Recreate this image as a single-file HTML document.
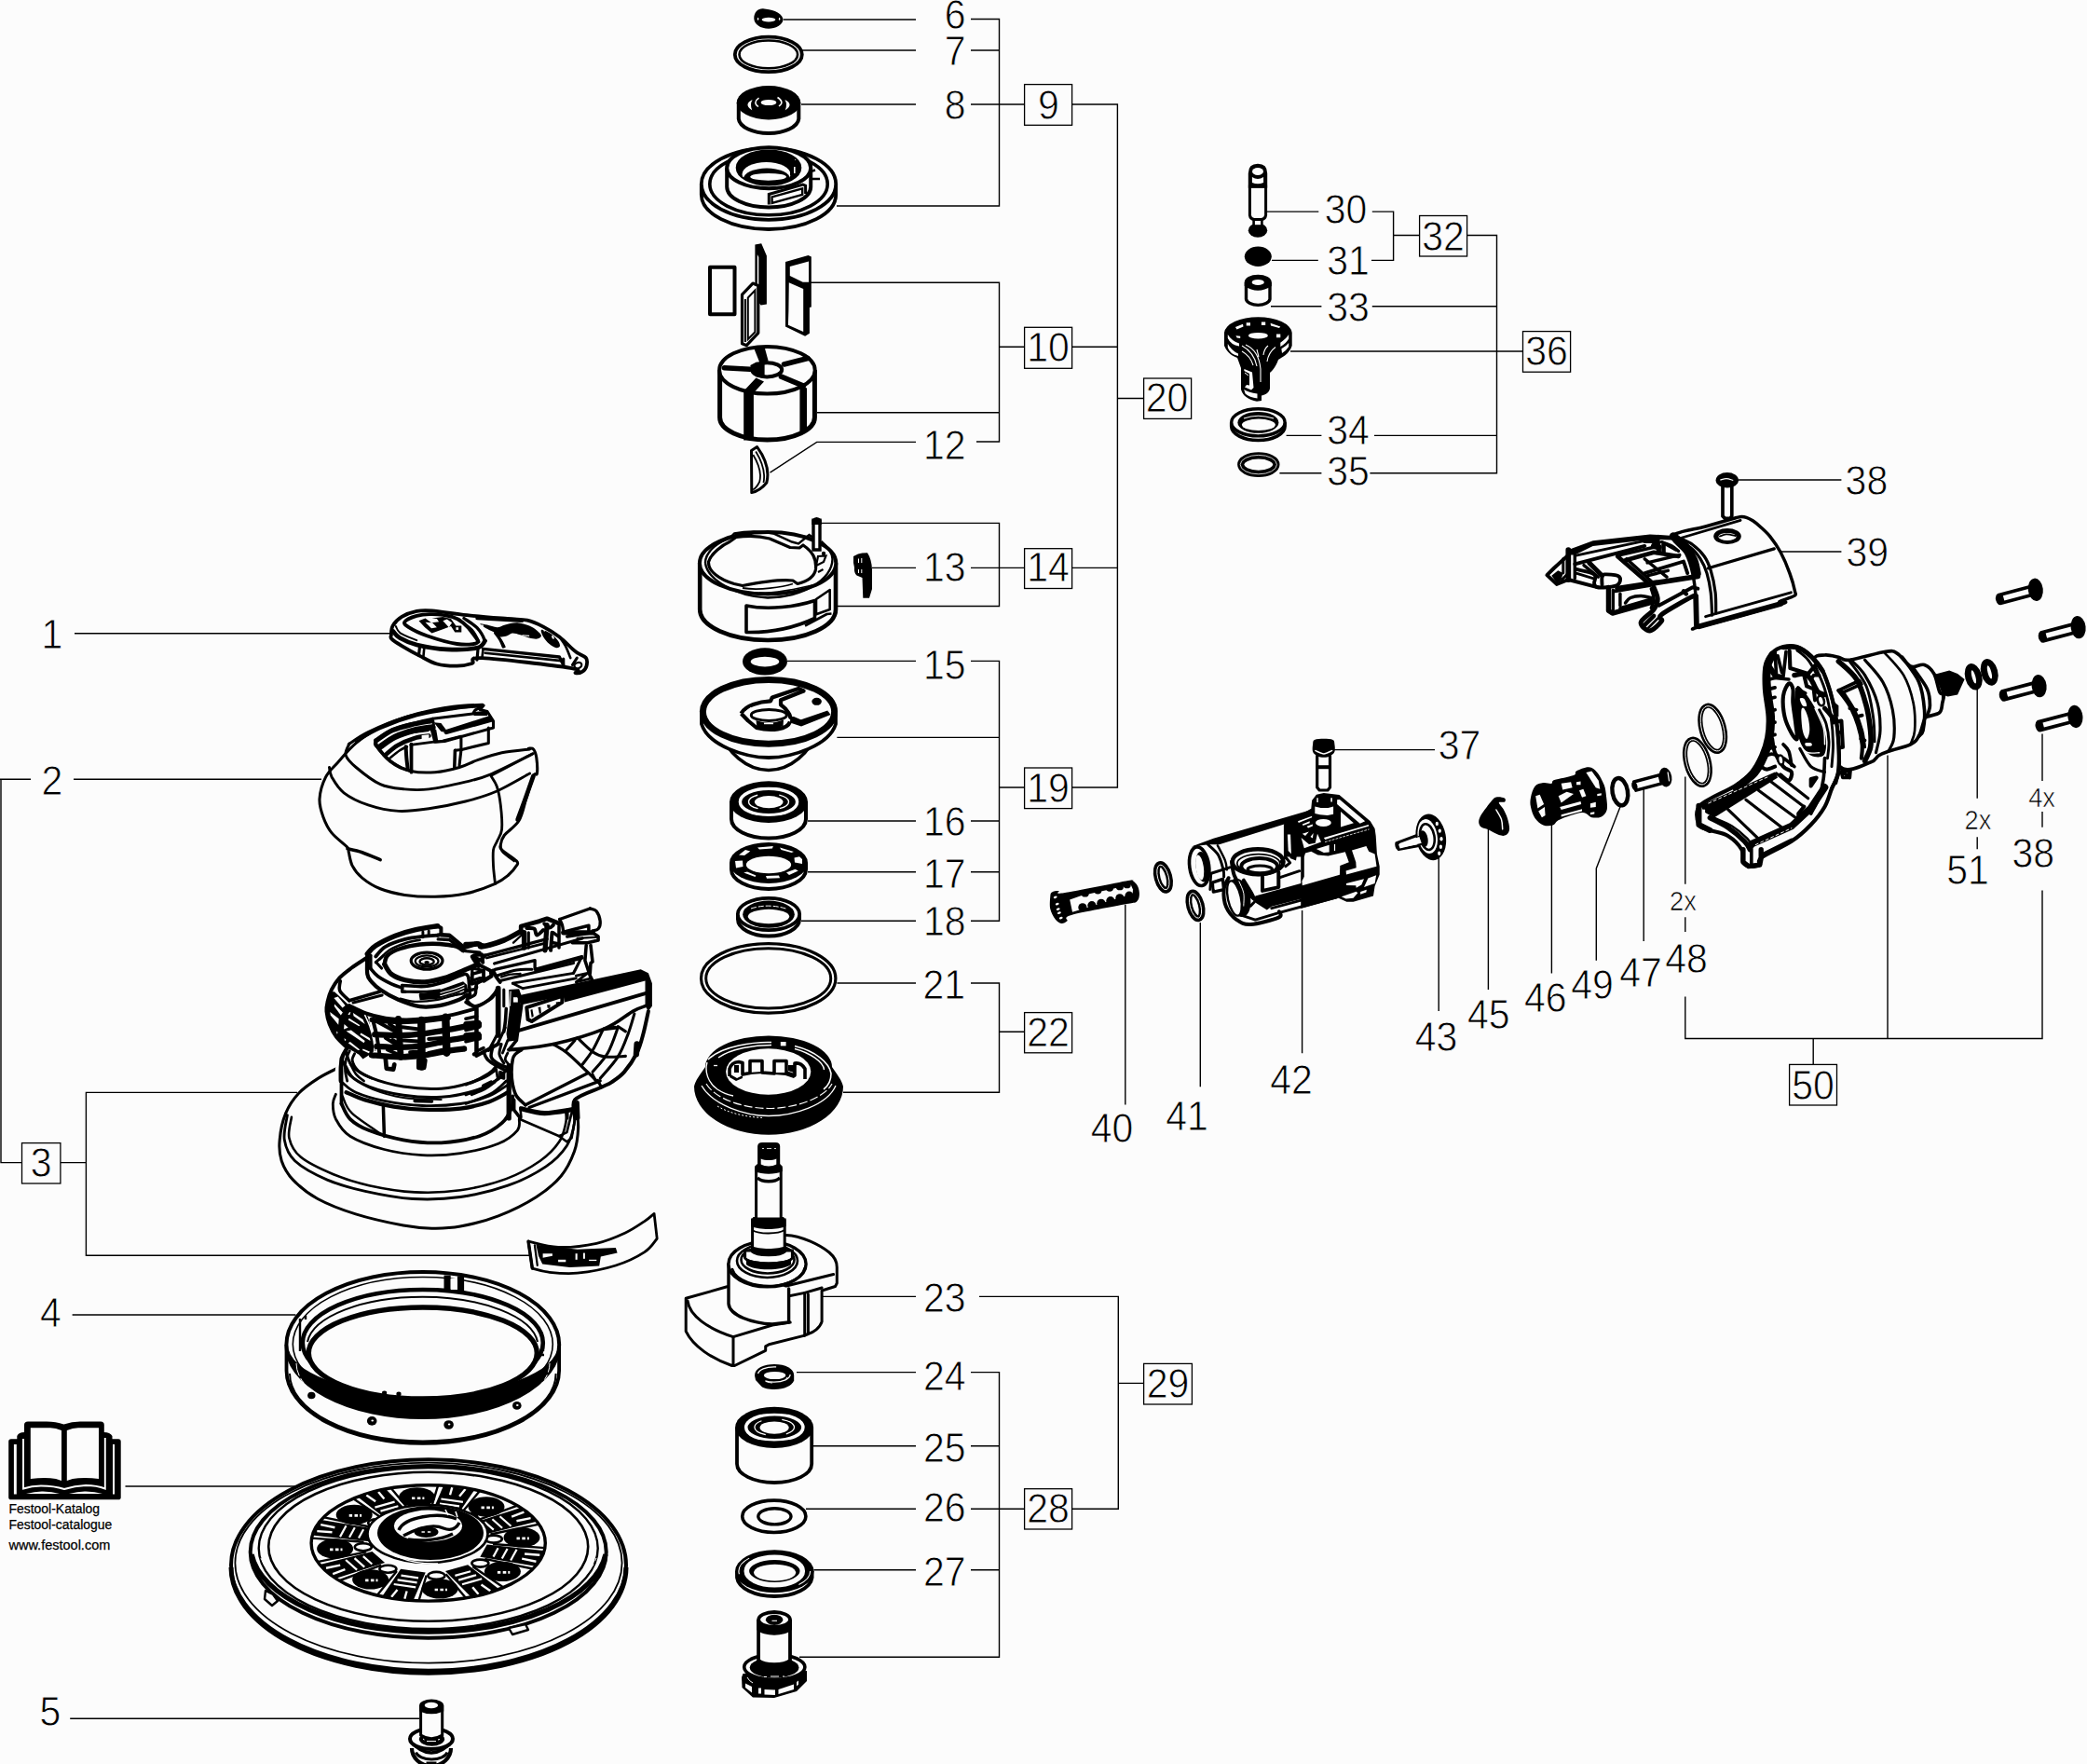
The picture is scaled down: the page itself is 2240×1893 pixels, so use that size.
<!DOCTYPE html>
<html><head><meta charset="utf-8"><title>Exploded view</title>
<style>
html,body{margin:0;padding:0;background:#fcfcfc;}
body{width:2240px;height:1893px;overflow:hidden;}
svg{display:block;}
.l{stroke:#000;stroke-width:1.4;fill:none;}
.p{stroke:#000;stroke-width:2.2;fill:none;stroke-linejoin:round;stroke-linecap:round;}
.pw{stroke:#000;stroke-width:2.2;fill:#fcfcfc;stroke-linejoin:round;stroke-linecap:round;}
.t{stroke:#000;stroke-width:1.4;fill:none;stroke-linejoin:round;stroke-linecap:round;}
.tw{stroke:#000;stroke-width:1.4;fill:#fcfcfc;stroke-linejoin:round;stroke-linecap:round;}
.h{stroke:#000;stroke-width:3.4;fill:none;stroke-linejoin:round;stroke-linecap:round;}
.hw{stroke:#000;stroke-width:3.4;fill:#fcfcfc;stroke-linejoin:round;stroke-linecap:round;}
.k{fill:#000;stroke:none;}
.w{fill:#fcfcfc;stroke:none;}
.b{stroke:#000;stroke-width:1.3;fill:#fcfcfc;}
text{font-family:"Liberation Sans",sans-serif;fill:#000;}
.n{font-size:43.6px;stroke:#fcfcfc;stroke-width:0.8px;}
.s{font-size:29px;stroke:#fcfcfc;stroke-width:0.6px;}
.c{font-size:13.95px;stroke:#000;stroke-width:0.25px;}
.c2{font-size:14.5px;stroke:#000;stroke-width:0.25px;}
</style></head><body>
<svg width="2240" height="1893" viewBox="0 0 2240 1893">
<rect x="0" y="0" width="2240" height="1893" fill="#fcfcfc"/>
<g id="lines">
<path class="l" d="M841,21 H983 M1042,20.5 H1072.5 V221 H898 M861,54 H983 M1042,54 H1072.5 M860,112 H983 M1042,112 H1099.6 M1150.5,112 H1199.4 V845 H1150.5"/>
<path class="l" d="M870,303.3 H1072.5 V474 H1048 M877,442.8 H1072.5 M1072.5,372.3 H1099.6 M1150.5,372.3 H1199.4 M1199.4,427.5 H1227.6 M983,474.4 H876.7 L826.5,507.2"/>
<path class="l" d="M881,561.4 H1072.5 V650.5 H898.4 M936,609.4 H983 M1042,609.4 H1099.6 M1150.5,609.4 H1199.4"/>
<path class="l" d="M845,709.4 H983 M1042,709.4 H1072.5 V988.3 H1042 M898.4,791.4 H1072.5 M1072.5,845 H1099.6 M867,881 H983 M1042,881 H1072.5 M867,935.7 H983 M1042,935.7 H1072.5 M860,988.3 H983"/>
<path class="l" d="M898.4,1055 H983 M1042,1055 H1072.5 V1172.3 H905 M1072.5,1107.3 H1099.6"/>
<path class="l" d="M882,1391.4 H983 M1051,1391.4 H1200.3 V1619.3 H1150.5 M1200.3,1484.4 H1227.6"/>
<path class="l" d="M855,1472.6 H983 M1042,1472.6 H1072.5 V1778.3 H858 M870,1551.7 H983 M1042,1551.7 H1072.5 M865,1619.3 H983 M1042,1619.3 H1099.6 M873.4,1684.8 H983 M1042,1684.8 H1072.5"/>
<path class="l" d="M80,679.7 H419 M0,836.3 H33 M1,836.3 V1247.6 H23.5 M79,836.3 H345 M64.9,1247.6 H92.4 M319,1172.4 H92.4 V1347.3 H568.5 M77.6,1411 H317.4 M134.5,1595 H320.8 M75.2,1844.3 H450"/>
<path class="l" d="M1359.5,227.1 H1415.3 M1472.8,227.1 H1495.6 V279.4 H1472 M1365,279.4 H1414.8 M1495.6,252.5 H1523.6 M1574.6,252.5 H1606.5 V507.7 H1470.4 M1373.4,507.7 H1418.4 M1364,328.7 H1418.4 M1472.8,328.7 H1606.5 M1385,377 H1634.5 M1380.6,467.4 H1418.4 M1475,467.4 H1606.5"/>
<path class="l" d="M1865.7,515 H1976.4 M1875.8,592 H1976.4 M1432,804.6 H1540 M1207.8,970.8 V1185.5 M1288.3,990 V1166.3 M1397.6,977 V1130.3 M1544.2,921 V1085 M1597.4,889.4 V1061.9 M1665.4,884 V1044.6 M1739.2,865.3 L1713.3,932 V1030.8 M1764.2,846.6 V1010"/>
<path class="l" d="M1808.8,833.6 V948.8 M1808.8,984.2 V1000 M1808.8,1069.6 V1114.5 H2192 V955.5 M2026,810.6 V1114.5 M1946.2,1114.5 V1142.4 M2122.2,738.8 V856.7 M2122.2,898.3 V911.3 M2192,787.6 V838 M2192,871 V887.7"/>
<rect class="b" x="1099.6" y="90.6" width="51" height="43.7"/>
<rect class="b" x="1099.6" y="351.3" width="51" height="44"/>
<rect class="b" x="1227.6" y="406" width="51" height="43.4"/>
<rect class="b" x="1099.6" y="588.7" width="51" height="42.8"/>
<rect class="b" x="1099.6" y="824" width="51" height="43.6"/>
<rect class="b" x="1099.6" y="1086.6" width="51" height="43.2"/>
<rect class="b" x="1099.6" y="1597.7" width="51" height="43.3"/>
<rect class="b" x="1227.6" y="1463.4" width="51.8" height="43.6"/>
<rect class="b" x="1523.6" y="231.5" width="51" height="43.5"/>
<rect class="b" x="1634.5" y="355.6" width="51.1" height="43.6"/>
<rect class="b" x="1920.6" y="1142.4" width="50.9" height="43.6"/>
<rect class="b" x="23.5" y="1226.6" width="41.4" height="43.4"/>
</g>
<g id="p6_9">
<!-- part 6 -->
<path class="k" d="M809.3,20 C809,13 814,9 819,9.3 C827,10.5 838,12 840.6,20.5 C840.5,27 832,30.8 825,30.8 C816,30.6 809.6,26 809.3,20 Z"/>
<ellipse class="w" cx="825" cy="21.1" rx="7.4" ry="2.4"/>
<ellipse class="w" cx="813.6" cy="20.3" rx="0.7" ry="1.5"/><ellipse class="w" cx="836.6" cy="20.3" rx="0.7" ry="1.5"/>
<!-- part 7 o-ring -->
<ellipse cx="824.8" cy="58.4" rx="36" ry="18.8" fill="none" stroke="#000" stroke-width="3.8"/>
<ellipse cx="824.8" cy="58.4" rx="31.3" ry="14.9" fill="none" stroke="#000" stroke-width="2.6"/>
<!-- part 8 bearing -->
<path d="M792.8,110 V127.5 A32.3,16.4 0 0 0 857.3,127.5 V110" fill="#fcfcfc" stroke="#000" stroke-width="4"/>
<ellipse class="k" cx="825" cy="110.2" rx="34.3" ry="18.2"/>
<ellipse class="w" cx="825" cy="110" rx="8.4" ry="3.1"/>
<path class="w" d="M807.6,107 Q797.5,112 807.2,118.2 Q804.6,112 807.6,107 Z"/>
<path class="w" d="M842.4,107 Q852.5,112 842.8,118.2 Q845.4,112 842.4,107 Z"/>
<path d="M814.5,105.2 Q807.5,110 814,114.5 M834.5,104.5 Q842.5,109.5 836,114" fill="none" stroke="#fcfcfc" stroke-width="1.5"/>
<!-- part 9 flange -->
<path d="M752.8,197.5 V209 A72.2,37 0 0 0 897.2,209 V197.5" fill="#fcfcfc" stroke="#000" stroke-width="3.8"/>
<ellipse cx="825" cy="197.5" rx="72.2" ry="38.3" fill="#fcfcfc" stroke="#000" stroke-width="3.8"/>
<ellipse cx="825" cy="197.5" rx="63.2" ry="33.3" fill="none" stroke="#000" stroke-width="3.6"/>
<path d="M780.2,180.2 V200.4 A45,22 0 0 0 870.2,200.4 V180.2" fill="#fcfcfc" stroke="#000" stroke-width="4"/>
<ellipse cx="825.2" cy="180.2" rx="45" ry="22" fill="#fcfcfc" stroke="#000" stroke-width="4"/>
<clipPath id="c9"><ellipse cx="825" cy="180" rx="34.3" ry="18.5"/></clipPath>
<g clip-path="url(#c9)">
<rect class="k" x="780" y="155" width="90" height="50"/>
<ellipse class="w" cx="822.5" cy="187" rx="26" ry="13"/>
<ellipse class="k" cx="823" cy="192" rx="25" ry="11.5"/>
<ellipse class="w" cx="824.6" cy="189.8" rx="19.4" ry="3.9"/>
<rect class="k" x="848" y="176" width="5" height="12"/>
<rect class="w" x="852" y="179" width="1.6" height="7"/><rect class="w" x="853" y="170.5" width="3" height="1.3"/>
</g>
<ellipse cx="825" cy="180" rx="34.3" ry="18.5" fill="none" stroke="#000" stroke-width="2"/>
<path d="M825.3,219.5 V208.5 L861.7,198 L864.6,199.2 V208" fill="none" stroke="#000" stroke-width="3"/>
<path d="M828.6,218 V211.4 L861.2,202.3 V208.8 Z" fill="#fcfcfc" stroke="#000" stroke-width="2.4"/>
<path d="M870.2,184 L875,182.5 M871,192 H880" fill="none" stroke="#000" stroke-width="2.5"/>
</g>
<g id="p10_12">
<!-- blades -->
<rect x="762" y="286.7" width="26.5" height="50.5" fill="#fcfcfc" stroke="#000" stroke-width="4" stroke-linejoin="round"/>
<path class="k" d="M810.4,262.5 L817.2,261.3 L822.9,274.5 V326.6 L816.7,327.6 L814.3,324.7 V316 H810.4 Z"/>
<path class="w" d="M812.8,273 L814.3,276 V316 H812.8 Z"/>
<path d="M796.5,316.1 L808,304.1 L813.8,306.5 V357.3 L801.3,370.7 L796.5,368.8 Z" fill="#fcfcfc" stroke="#000" stroke-width="3.2" stroke-linejoin="round"/>
<path d="M799.9,321 V367 M802.8,319.5 L810.4,311.5 V356.3 L802.8,364 Z" fill="none" stroke="#000" stroke-width="2"/>
<path class="k" d="M843,281.1 L867.5,274 L870.8,275.4 V329.5 L868.9,330 V357.8 L864.1,360.7 L843,350.6 Z"/>
<path class="w" d="M847.8,286 L868,280.6 V302.7 H861.7 L847.8,296 Z"/>
<path class="w" d="M846.8,303.2 L862.2,310 V355.9 L845.9,348.7 L846.4,333.4 Z"/>
<!-- rotor -->
<path d="M772.6,397 V448 A50.8,24 0 0 0 874.4,448 V397" fill="#fcfcfc" stroke="#000" stroke-width="5"/>
<ellipse cx="823.4" cy="397.2" rx="51.3" ry="25.3" fill="#fcfcfc" stroke="#000" stroke-width="4"/>
<path class="k" d="M809.4,374.3 L820.6,372.6 L824.7,387.6 L815.5,389.6 Z"/>
<path d="M841.5,391 L867,384.5 M777.5,394.7 L805,396.2 M838.5,404.2 L862.4,414.1" fill="none" stroke="#000" stroke-width="5.6" stroke-linecap="round"/>
<path class="k" d="M811.5,405.5 L820,409.5 L809,421.5 L798.3,419.5 Z"/>
<rect class="k" x="798.2" y="419.5" width="10.7" height="53"/>
<path class="k" d="M858.4,413.5 L866,416.5 V460 L858.4,464.5 Z"/>
<ellipse cx="823.2" cy="396.8" rx="16" ry="7.6" fill="#fcfcfc" stroke="#000" stroke-width="4"/>
<path class="k" d="M805.3,392 L812,388.4 L820.6,389.5 V405 L812,404.5 Q806,400 805.3,392 Z"/>
<!-- key 12 -->
<path d="M806.5,483.5 L812.6,479.6 Q827.5,500 822.8,518 Q816,526.5 806.8,528.6 Z" fill="#fcfcfc" stroke="#000" stroke-width="3" stroke-linejoin="round"/>
<path d="M808.3,488 Q818.5,505 815.2,517 Q812,523.5 808.2,525.5 M811.2,484.5 Q822.5,503 819.5,518" fill="none" stroke="#000" stroke-width="1.8"/>
</g>
<g id="p13_14">
<!-- housing 14 -->
<path d="M751.2,604.3 V654 A72.9,33 0 0 0 897,654 V604.3" fill="#fcfcfc" stroke="#000" stroke-width="4.6"/>
<ellipse cx="824.1" cy="604.3" rx="73.2" ry="33.2" fill="#fcfcfc" stroke="#000" stroke-width="4"/>
<path d="M757,604 C757,590 775,580 783,577.5 L788,572.5 C800,570 815,569.5 830,572.5 L850,581.5 L857,583.5 L868.5,574 L873,577 M757,604 C759,622 790,640 824,641.5 C862,641 893,622 893.5,600 C893,590 885,584 881.5,581" fill="none" stroke="#000" stroke-width="2.4"/>
<path d="M760.5,603 C763,594 776,584.5 783,581.5 L790,576.5 C803,574.5 815,575 826,578 L848,587.5 L858,588 L862,585 C872,592 876.5,599 875.5,611 C874,620 866,624 856,626.5 L851,623 C838,621.5 820,624 797,628.5 L788,626.5 C772,622 760,613 760.5,603 Z" fill="#fcfcfc" stroke="#000" stroke-width="3.2" stroke-linejoin="round"/>
<path d="M797,631 C815,634 840,630 851,626.5 M815,636.5 C835,636.5 860,631 880,626" fill="none" stroke="#000" stroke-width="1.8"/>
<path d="M876,607 L884,603 L886.5,596.5 L878,597 Z M878,614 L883.5,611" fill="none" stroke="#000" stroke-width="2.2"/>
<circle class="k" cx="884" cy="594" r="2.2"/>
<path d="M873,556.5 V590 H880 V556.5" fill="#fcfcfc" stroke="#000" stroke-width="3.4"/>
<path class="k" d="M871.3,563 V558 Q876.5,552 881.8,558 V563 Z"/>
<path d="M801,650 C825,655 855,651 874.5,644.5 V663.5 C850,675 825,679 801,678.5 Z" fill="#fcfcfc" stroke="#000" stroke-width="3.6" stroke-linejoin="round"/>
<path d="M876,643 L890.7,633 V654 L876,659.3 Z M864,671.5 L887.5,659 L892.5,658.5" fill="none" stroke="#000" stroke-width="2.6" stroke-linejoin="round"/>
<!-- clip 13 -->
<path class="k" d="M916,597 L921,594.5 L925.5,593.5 L931,593.2 Q935.5,600 936,611 L936,632 L933,641.7 H926.3 L925.5,620 L919.5,617.5 Q916.5,615 917,609 L916,604 Z"/>
<path d="M921.5,599.5 V604 M924.8,599 V604 M921.5,611 V615 M924.8,611 V615" fill="none" stroke="#fcfcfc" stroke-width="1"/>
</g>
<g id="p15_19">
<!-- 15 ring -->
<ellipse class="k" cx="821" cy="709.9" rx="24" ry="14.6"/>
<ellipse class="w" cx="821" cy="710.1" rx="15.3" ry="5.3"/>
<!-- end plate -->
<path d="M776,790 C780,805 800,826.5 825,826.5 C850,826.5 870,805 874,790" fill="#fcfcfc" stroke="#000" stroke-width="3.6"/>
<path d="M753,765 V777 C760,800 800,813 825,813 C850,813 890,800 897,777 V765" fill="#fcfcfc" stroke="#000" stroke-width="3.8"/>
<ellipse cx="825" cy="763.8" rx="70.6" ry="34.4" fill="#fcfcfc" stroke="#000" stroke-width="7"/>
<path d="M795.6,765.7 C800,757 815,752.8 827,752.3 L828.8,748.5 L857,738.9 L862.5,741.5 L838,751.3 V756.3 C843,760 847.3,765 848.3,769.8 L859.8,774.6 L889,764.5 M848,774.5 C845,783 828,785 812,781 L803,773.5 L795.6,765.7" fill="none" stroke="#000" stroke-width="4.2" stroke-linejoin="round"/>
<path class="k" d="M848.3,769 L860,774 L889,763.5 L891.5,767 L860,779.5 L848,775.5 Z"/>
<path d="M799,765 L806,759.5" stroke="#fcfcfc" stroke-width="1.2" fill="none"/>
<ellipse cx="825.3" cy="767.4" rx="19" ry="6" fill="#fcfcfc" stroke="#000" stroke-width="3"/>
<path class="k" d="M811.5,773 Q826,778.5 841,772.5 L840.5,779 Q826,786 812.5,781.5 Z"/>
<rect class="w" x="820" y="775.6" width="10" height="1.6"/>
<ellipse class="k" cx="876.6" cy="752.8" rx="5.3" ry="4"/>
<!-- 16 bearing -->
<path d="M785,860 V879 A40,20.4 0 0 0 865,879 V860" fill="#fcfcfc" stroke="#000" stroke-width="4"/>
<ellipse class="k" cx="825" cy="860.6" rx="42" ry="22.4"/>
<ellipse cx="825" cy="860.4" rx="30.6" ry="14.2" fill="none" stroke="#fcfcfc" stroke-width="3.4"/>
<path d="M808,843.5 Q825,841.5 842,843.5 M806,876.3 Q825,879.6 844,876.3" stroke="#000" stroke-width="4" fill="none"/>
<ellipse cx="825" cy="860.4" rx="21.5" ry="8.6" fill="none" stroke="#fcfcfc" stroke-width="1.4" stroke-dasharray="13 23 26 23 13 0" />
<ellipse class="w" cx="825.2" cy="860.6" rx="15.3" ry="6.6"/>
<!-- 17 cage -->
<path d="M785,926 V933 A40,21 0 0 0 865,933 V926" fill="#fcfcfc" stroke="#000" stroke-width="4"/>
<ellipse class="k" cx="825" cy="926" rx="42" ry="22"/>
<ellipse class="w" cx="825" cy="928" rx="24.2" ry="9.2"/>
<path class="w" d="M789,924 L797,923.5 L797.5,930 L790,931.5 Z M852.5,920.5 L858,919.2 L861,922 V927 L853,925.5 Z M793,917.5 L800,912 L805.3,913.5 L799,918 Z M813,909.5 L829.8,908 L829,910.5 L815,911.5 Z M837,909.6 L852,914 L849.5,915 L838.5,912 Z M798.2,936.5 L802,935.6 L811.4,939.5 L810.5,940.9 Z M822,940 L836,939.5 L837,942.3 L823,942.8 Z M844,936.3 L853.5,932.8 L856.8,934.5 L847,938.9 Z"/>
<!-- 18 seal -->
<path d="M792,981 V986.5 A33,18 0 0 0 858,986.5 V981" fill="#fcfcfc" stroke="#000" stroke-width="4"/>
<ellipse cx="825" cy="981" rx="33.2" ry="17.2" fill="#fcfcfc" stroke="#000" stroke-width="3.8"/>
<ellipse class="k" cx="825" cy="981.2" rx="27.8" ry="14.6"/>
<ellipse class="w" cx="825" cy="983.5" rx="22.2" ry="7.7"/>
<path d="M806,975 Q825,969 845,975.5" stroke="#fcfcfc" stroke-width="1" fill="none" stroke-dasharray="6 2"/>
</g>
<g id="p21_22">
<ellipse cx="824.7" cy="1049.9" rx="72.2" ry="37.3" fill="none" stroke="#000" stroke-width="3.2"/>
<ellipse cx="824.7" cy="1049.9" rx="67" ry="32.2" fill="none" stroke="#000" stroke-width="3"/>
<!-- 22 seal -->
<path class="k" d="M757,1145 C752,1152 746,1160 745,1166 A80,51.7 0 0 0 905,1166 C904,1160 898,1152 893,1145 A68,33.5 0 0 0 757,1145 Z"/>
<ellipse class="w" cx="824.7" cy="1150" rx="45.6" ry="24.7"/>
<path d="M783,1155 V1147 Q785,1140 793,1139.5 L797,1140.5 V1153 L805,1151.5 V1138.5 H818 V1151 L831,1152 V1138.5 H844 V1151 L853,1154 V1141 Q860,1140 864,1147 V1158" fill="none" stroke="#000" stroke-width="3.6" stroke-linejoin="round"/>
<path class="k" d="M788,1143 h5 v8 h-5z M846,1143 h6 v8 l-6,-2z M803,1151 l14,-1 2,2 -14,1z M831,1151 l13,0 10,4 -2,2 -9,-3 -12,-1z M784,1153 l7,4 6,-3 0,3 -7,3 -7,-4z"/>
<path d="M760,1137 C775,1122 810,1118 828,1118.5 M853,1122.5 C875,1128 890,1140 892,1152 C892,1160 888,1166 884,1169" fill="none" stroke="#fcfcfc" stroke-width="1.6"/>
<path d="M771,1135 C785,1125 810,1121.5 828,1121.5 M853,1125.5 C870,1130 884,1140 884.5,1148" fill="none" stroke="#fcfcfc" stroke-width="1.4"/>
<path d="M759,1140 C756,1150 760,1162 770,1169 C776,1173 782,1175 787,1176" fill="none" stroke="#fcfcfc" stroke-width="1.4"/>
<path d="M758,1163 C768,1180 800,1189.5 825,1189.5 C850,1189.5 884,1180 893,1163" fill="none" stroke="#fcfcfc" stroke-width="1.2" stroke-dasharray="9 3"/>
<path d="M753,1165 C765,1186 800,1197.5 825,1197.5 C852,1197.5 888,1186 897,1165" fill="none" stroke="#fcfcfc" stroke-width="1.3"/>
<path d="M770,1187 C785,1196 805,1199 820,1199.5" fill="none" stroke="#fcfcfc" stroke-width="1" stroke-dasharray="2 2"/>
<rect class="w" x="837.8" y="1118" width="5.8" height="4.4"/>
<path d="M766,1143.5 h4" stroke="#fcfcfc" stroke-width="1.3"/>
</g>
<g id="p23">
<!-- right block -->
<path class="p" style="stroke-width:3" d="M843.8,1325.5 C860,1326 880,1336 890,1344 C897,1350 898.5,1355 898.3,1360 V1377 L896.5,1380.5 L882.1,1385 V1418.4 C880,1425 873,1430 867.4,1431.5 L863.7,1433.1 V1387.4 L840.9,1392"/>
<path class="p" style="stroke-width:3" d="M894.6,1367.5 L840.9,1380.8 M863.7,1387.4 L882.1,1382 M867.4,1389 V1431"/>
<!-- left block -->
<path class="p" style="stroke-width:3" d="M780.4,1380.8 L736.2,1393.3 V1428.7 C744,1445 764,1458 785.6,1465.5 L787,1465.5 V1434.6 L829,1422 L848.2,1419.1"/>
<path class="p" style="stroke-width:3" d="M738,1396 C740,1412 760,1426 787,1434.6 M788.5,1465.5 L821.7,1449.3 V1444.9 L825.4,1442.7 L863.7,1433.1"/>
<!-- hub -->
<path class="pw" style="stroke-width:3.4" d="M782,1356.5 V1399 C783,1412 808,1420 829,1421 L846.6,1419 V1383"/>
<ellipse cx="823.5" cy="1356.5" rx="41.6" ry="24.4" fill="#fcfcfc" stroke="#000" stroke-width="3.4"/>
<path class="p" style="stroke-width:2.6" d="M786,1362 C790,1375 812,1381 830,1380 C848,1378.5 862,1370 863.5,1361"/>
<ellipse cx="823.5" cy="1353" rx="32.5" ry="18" fill="none" stroke="#000" stroke-width="2.6"/>
<ellipse cx="824" cy="1352" rx="28.5" ry="14.5" fill="none" stroke="#000" stroke-width="2.6"/>
<!-- shaft -->
<path d="M799.6,1342 V1350 C805,1358 845,1358 850.4,1350 V1342 Z" fill="#fcfcfc" stroke="#000" stroke-width="3"/>
<path class="k" d="M801,1350 C808,1356 842,1356 849,1350 L849,1357 C840,1364 808,1364 801,1357 Z"/>
<path d="M807.6,1309 V1343 C812,1348 838,1348 842.2,1343 V1309 Z" fill="#fcfcfc" stroke="#000" stroke-width="3"/>
<path class="k" d="M806.2,1309.3 L808.5,1306 H841 L843.5,1309.3 V1316 C835,1320 815,1320 806.2,1316 Z M806.2,1337 C815,1341 835,1341 843.5,1337 V1344 C835,1349 815,1349 806.2,1344 Z"/>
<path d="M808,1320.5 C815,1324.5 835,1324.5 842,1320 " fill="none" stroke="#000" stroke-width="2"/>
<rect x="811.6" y="1254" width="26.6" height="54" fill="#fcfcfc" stroke="#000" stroke-width="3"/>
<path class="k" d="M810.2,1251.5 L813,1249 H837 L839.7,1251.5 V1257 C832,1260.5 818,1260.5 810.2,1257 Z"/>
<path d="M813,1264 C818,1269 832,1269 837,1264" fill="none" stroke="#000" stroke-width="3.4"/>
<path class="k" d="M813.1,1230 Q813.5,1226 818,1226 H832.5 Q837,1226 837.2,1230 V1250 H813.1 Z"/>
<path class="w" d="M816.7,1243.5 C821,1245.5 829,1245.5 833.3,1243.5 V1249.5 C829,1252 821,1252 816.7,1249.5 Z"/>
<path d="M818,1232.5 h2 m3,0 h5 m3,0 h2" stroke="#fcfcfc" stroke-width="0.8" fill="none"/>
</g>
<g id="p24_28">
<!-- 24 -->
<path class="k" d="M810,1476 C810,1468 820,1464 831,1464 C843,1464 852.2,1468.5 852.2,1476 V1481.5 C850,1487 842,1491 831,1491 C825,1491 820,1490 817.5,1488 L811,1481 Z"/>
<ellipse cx="830.8" cy="1475" rx="17.3" ry="8.2" fill="none" stroke="#fcfcfc" stroke-width="1.3" stroke-dasharray="30 12 22 60"/>
<ellipse class="w" cx="831.6" cy="1476" rx="11.8" ry="4.1"/>
<path d="M822,1482.5 Q826,1484 829,1484 M843,1481 l2,-3" stroke="#fcfcfc" stroke-width="1" fill="none"/>
<!-- 25 -->
<path d="M791,1531.8 V1571 A40.1,20 0 0 0 871.2,1571 V1531.8" fill="#fcfcfc" stroke="#000" stroke-width="3.8"/>
<ellipse class="k" cx="831.1" cy="1531.8" rx="42" ry="22.1"/>
<ellipse cx="831.3" cy="1531.8" rx="30.6" ry="14" fill="none" stroke="#fcfcfc" stroke-width="3.6"/>
<path d="M816,1515.5 Q831,1513.5 846,1515.5 M812,1547 Q831,1550.5 850,1547" stroke="#000" stroke-width="4.4" fill="none"/>
<ellipse cx="831.2" cy="1531.6" rx="21.3" ry="9" fill="none" stroke="#fcfcfc" stroke-width="1.3" stroke-dasharray="12 22 26 22 14 0"/>
<ellipse class="w" cx="831.1" cy="1532.1" rx="15.6" ry="6.7"/>
<!-- 26 washer -->
<ellipse cx="830.8" cy="1627.3" rx="34.1" ry="17.2" fill="#fcfcfc" stroke="#000" stroke-width="3.6"/>
<ellipse cx="831.4" cy="1627.3" rx="17.6" ry="8.6" fill="none" stroke="#000" stroke-width="3.4"/>
<!-- 27 seal -->
<path d="M791,1686 V1693 A40.4,21.5 0 0 0 871.6,1693 V1686" fill="#fcfcfc" stroke="#000" stroke-width="3.8"/>
<ellipse class="k" cx="831.3" cy="1686.2" rx="42.3" ry="23"/>
<ellipse cx="831.3" cy="1686" rx="30" ry="14.7" fill="none" stroke="#fcfcfc" stroke-width="5.6"/>
<ellipse cx="831.3" cy="1686" rx="38.4" ry="19.6" fill="none" stroke="#fcfcfc" stroke-width="1.1" stroke-dasharray="20 70 22 200"/>
<ellipse class="w" cx="831.6" cy="1687.6" rx="22.6" ry="8.9"/>
<!-- bolt -->
<path class="k" d="M796,1800 L797.5,1796 L866,1793 L866,1804 L855,1815 L831,1822 L808,1821.5 L796.5,1811 Z"/>
<path class="w" d="M800,1806.5 L807,1810 V1816.5 L800,1811 Z M814,1811.5 h3 v6 h-3 Z M820.5,1813 L832,1813.5 V1819 L820.5,1818.5 Z M835.5,1813 L852,1807.5 V1813 L835.5,1818 Z M855,1805 l2,-1.5 v4 l-2,2 Z"/>
<ellipse cx="831.3" cy="1789" rx="32.6" ry="13.4" fill="#fcfcfc" stroke="#000" stroke-width="3.6"/>
<ellipse class="k" cx="831.1" cy="1789.5" rx="26.4" ry="11"/>
<path d="M814.1,1738 V1782 C820,1787.5 842,1787.5 848,1782 V1738" fill="#fcfcfc" stroke="#000" stroke-width="3.8"/>
<path class="k" d="M812.2,1738 H849.9 V1749 C842,1756.5 820,1756.5 812.2,1749 Z"/>
<ellipse cx="831.1" cy="1738" rx="16.9" ry="8" fill="#fcfcfc" stroke="#000" stroke-width="3.8"/>
<ellipse class="k" cx="831.1" cy="1738.3" rx="9.2" ry="5.6"/>
<path d="M828.5,1739.3 h5.5" stroke="#fcfcfc" stroke-width="1.1"/>
<path d="M820,1799.5 h3 m4,-0.5 h9 m4,0 h2" stroke="#fcfcfc" stroke-width="1" fill="none"/>
<path d="M802,1800 q2,4 6,6" stroke="#fcfcfc" stroke-width="1" fill="none"/>
</g>
<g id="hood">
<path class="pw" style="stroke-width:3.07;" d="M517.8,756.3 C512.6,756.6 498.2,756.7 486.5,758.3 C474.8,759.9 460.4,762.4 447.4,766.1 C434.3,769.8 419.1,775.2 408.2,780.4 C397.3,785.6 389.8,791.1 382.2,797.4 C374.6,803.7 368.0,812.1 362.6,818.2 C357.2,824.3 352.9,827.4 349.6,833.9 C346.3,840.4 343.4,850.2 343.0,857.4 C342.6,864.6 344.8,870.8 347.0,876.9 C349.2,883.0 351.8,888.5 356.1,893.9 C360.4,899.3 370.0,906.0 373.0,909.5 C376.0,913.0 373.4,911.4 374.3,914.7 C375.2,918.0 375.8,924.5 378.2,929.1 C380.6,933.7 383.7,938.0 388.7,942.1 C393.7,946.2 400.6,950.8 408.2,953.8 C415.8,956.8 424.5,959.0 434.3,960.4 C444.1,961.8 456.0,962.5 466.9,962.3 C477.8,962.1 488.9,961.4 499.5,959.1 C510.1,956.8 523.2,951.9 530.8,948.6 C538.4,945.3 541.3,942.8 545.2,939.5 C549.1,936.2 552.8,931.7 554.3,929.1 C555.8,926.5 556.9,926.7 554.3,923.9 C551.7,921.1 541.4,914.9 538.6,912.1 C535.8,909.3 536.9,909.5 537.3,906.9 C537.7,904.3 537.9,900.9 541.2,896.5 C544.5,892.1 553.0,887.3 556.9,880.8 C560.8,874.3 562.1,865.4 564.7,857.4 C567.3,849.4 570.5,837.2 572.5,832.6 C574.5,828.0 575.9,833.3 576.4,830.0 C576.9,826.7 576.4,817.4 575.8,813.0 C575.1,808.6 573.9,805.5 572.5,803.9 C571.1,802.3 568.2,803.3 567.3,803.2"/>
<path class="p" style="stroke-width:3.07;" d="M568.6,803.9 C563.6,804.5 547.9,805.8 538.6,807.8 C529.3,809.8 520.2,813.0 512.6,815.6 C505.0,818.2 500.6,821.3 493.0,823.5 C485.4,825.7 475.6,828.1 466.9,828.7 C458.2,829.4 448.4,829.1 440.8,827.4 C433.2,825.6 426.7,821.9 421.3,818.2 C415.9,814.5 411.2,808.9 408.2,805.2 C405.1,801.5 400.8,799.8 403.0,796.1 C405.2,792.4 413.9,786.5 421.3,783.0 C428.7,779.5 440.2,777.2 447.4,775.2 C454.6,773.2 461.5,771.9 464.3,771.3"/>
<path class="p" style="stroke-width:3.07;" d="M374.3,798.7 C377.8,796.5 385.2,790.4 395.2,785.6 C405.2,780.8 421.3,774.0 434.3,770.0 C447.3,766.0 460.3,763.6 473.4,761.5 C486.4,759.4 506.1,758.2 512.6,757.6"/>
<path class="p" style="stroke-width:2.6;" d="M382.2,796.1 C386.5,793.7 397.3,786.4 408.2,781.7 C419.1,777.0 434.3,771.5 447.4,768.0 C460.4,764.5 474.8,762.6 486.5,760.9 C498.2,759.2 512.6,758.1 517.8,757.6"/>
<path class="p" style="stroke-width:2.95;" d="M375.0,798.0 C374.4,800.1 369.9,806.1 371.1,810.4 C372.3,814.6 376.0,818.3 382.2,823.5 C388.4,828.7 399.5,837.8 408.2,841.7 C416.9,845.6 425.6,846.0 434.3,846.9 C443.0,847.8 449.5,848.2 460.4,846.9 C471.3,845.6 488.6,841.7 499.5,839.1 C510.4,836.5 513.6,836.3 525.6,831.3 C537.6,826.3 563.6,812.8 571.2,809.1"/>
<path class="p" style="stroke-width:2.95;" d="M353.5,823.5 C353.9,825.2 353.5,829.4 356.1,833.9 C358.7,838.4 362.6,845.8 369.1,850.8 C375.6,855.8 385.4,860.6 395.2,863.9 C405.0,867.2 416.9,869.8 427.8,870.4 C438.7,871.0 448.4,869.5 460.4,867.8 C472.3,866.1 487.6,863.0 499.5,860.0 C511.4,857.0 520.6,854.5 532.1,849.5 C543.6,844.5 562.5,833.2 568.6,830.0"/>
<path class="p" style="stroke-width:2.83;" d="M526.9,832.6 C528.0,834.5 531.7,839.1 533.4,844.3 C535.1,849.5 536.4,856.3 537.3,863.9 C538.2,871.5 539.2,883.5 538.6,890.0 C538.0,896.5 534.9,899.3 533.4,903.0 C531.9,906.7 530.1,907.8 529.5,912.1 C528.9,916.5 529.2,923.0 529.5,929.1 C529.8,935.2 531.2,945.4 531.5,948.6"/>
<path class="p" style="stroke-width:4.72;" d="M572.5,832.6 C571.2,836.3 567.5,846.9 564.7,854.7 C561.9,862.5 557.1,875.4 555.6,879.5"/>
<path class="p" style="stroke-width:2.6;" d="M537.3,908.2 C537.7,909.3 537.5,912.1 539.9,914.7 C542.3,917.3 549.7,922.4 551.7,923.9"/>
<path class="p" style="stroke-width:3.54;" d="M373.0,910.8 C375.6,911.4 382.8,912.7 388.7,914.7 C394.6,916.7 404.9,921.3 408.2,922.6"/>
<path class="p" style="stroke-width:2.6;" d="M528.2,831.9 L572.5,808.5"/>
<path class="p" style="stroke-width:3.54;" d="M403.0,796.1 C403.4,797.2 404.3,800.4 405.6,802.6 C406.9,804.8 408.6,806.7 410.8,809.1 C413.0,811.5 415.6,814.5 418.7,816.9 C421.8,819.3 425.4,821.8 429.1,823.5 C432.8,825.2 438.9,826.8 440.8,827.4"/>
<path class="p" style="stroke-width:5.31;" d="M403.7,794.8 C406.6,792.9 415.1,786.5 421.3,783.7 C427.5,780.9 434.1,779.4 440.8,777.8 C447.5,776.2 458.2,774.5 461.7,773.9"/>
<path class="p" style="stroke-width:6.49;" d="M408.2,801.3 C410.8,799.6 417.8,793.8 423.9,790.9 C430.0,788.0 438.0,785.5 444.7,783.7 C451.4,782.0 461.0,781.0 464.3,780.4"/>
<path class="p" style="stroke-width:4.72;" d="M413.5,810.4 C415.7,808.7 421.3,803.0 426.5,800.0 C431.7,797.0 439.1,793.9 444.7,792.2 C450.3,790.5 457.8,790.0 460.4,789.6"/>
<path class="p" style="stroke-width:2.6;" d="M417.4,814.3 C419.3,812.8 425.9,807.4 429.1,805.2 C432.4,803.0 435.6,801.9 436.9,801.3"/>
<path class="p" style="stroke-width:3.07;" d="M464.3,771.3 L507.3,766.1 L509.9,762.2 L519.1,757.0 L515.2,761.5 L523.0,763.5 L529.5,773.9 L529.5,781.1 L477.3,795.4 L466.9,796.1 L465.6,779.1 L464.3,771.3"/>
<path class="k" d="M465.6,775.2 L473.4,775.9 L478.7,783.0 L525.6,768.0 L529.5,774.2 L478.7,788.2 L473.4,785.0 Z"/>
<path class="k" d="M507.3,764.1 L523.0,762.8 L523.0,768.0 L508.6,768.0 Z"/>
<path class="k" d="M461.7,783.0 L468.2,783.0 L470.2,794.8 L476.0,796.7 L465.6,797.4 Z"/>
<path class="k" d="M439.5,783.0 L460.4,780.4 L460.4,785.0 L440.8,787.6 Z"/>
<path class="w" d="M452.6,788.9 L460.4,788.2 L460.4,793.5 L452.6,793.5 Z"/>
<path class="w" d="M471.5,785.0 L476.7,785.6 L476.0,793.5 L471.5,792.8 Z"/>
<path class="p" style="stroke-width:2.83;" d="M440.8,799.3 L465.6,796.1"/>
<path class="p" style="stroke-width:3.78;" d="M441.5,798.7 L441.5,828.7"/>
<path class="p" style="stroke-width:4.01;" d="M435.6,801.3 C435.7,803.2 436.0,809.1 436.3,813.0 C436.6,816.9 437.4,822.8 437.6,824.8"/>
<path class="p" style="stroke-width:3.54;" d="M488.4,805.2 L487.8,823.5"/>
<path class="p" style="stroke-width:3.07;" d="M494.9,792.2 L494.9,805.2 L493.0,821.5"/>
<path class="p" style="stroke-width:3.07;" d="M524.3,781.1 L524.3,797.4 L495.6,804.5 L488.4,805.2"/>
<path class="p" style="stroke-width:2.83;" d="M476.0,794.8 L494.9,790.2"/>
</g>
<g id="body">
<path class="w" style="stroke-width:0;" d="M365.5,1144.7 C346.9,1148.6 349.5,1152.1 342.0,1156.9 C334.5,1161.7 326.5,1167.0 320.6,1173.3 C314.7,1179.6 310.1,1186.4 306.7,1194.7 C303.3,1203.0 300.9,1214.8 300.2,1223.3 C299.4,1231.8 299.8,1238.6 302.2,1245.7 C304.6,1252.8 308.0,1259.3 314.5,1266.1 C321.0,1272.9 329.8,1280.4 341.0,1286.5 C352.2,1292.6 366.5,1298.1 381.8,1302.9 C397.1,1307.7 419.3,1312.5 432.9,1315.1 C446.5,1317.6 453.3,1318.0 463.5,1318.2 C473.7,1318.4 482.2,1318.3 494.1,1316.1 C506.0,1313.9 521.3,1310.2 534.9,1304.9 C548.5,1299.6 564.5,1291.7 575.7,1284.5 C586.9,1277.3 595.4,1270.2 602.2,1262.0 C609.0,1253.8 613.4,1244.0 616.5,1235.5 C619.6,1227.0 620.2,1218.8 620.6,1211.0 C621.0,1203.2 619.3,1193.5 618.6,1188.6 C617.9,1183.7 627.0,1185.5 616.5,1181.4 C606.0,1177.3 582.5,1172.1 555.3,1164.1 C528.1,1156.1 484.9,1136.7 453.3,1133.5 C421.7,1130.3 384.1,1140.8 365.5,1144.7 Z"/>
<path class="p" style="stroke-width:3.07;" d="M365.5,1144.7 C361.6,1146.7 349.5,1152.1 342.0,1156.9 C334.5,1161.7 326.5,1167.0 320.6,1173.3 C314.7,1179.6 310.1,1186.4 306.7,1194.7 C303.3,1203.0 300.9,1214.8 300.2,1223.3 C299.4,1231.8 299.8,1238.6 302.2,1245.7 C304.6,1252.8 308.0,1259.3 314.5,1266.1 C321.0,1272.9 329.8,1280.4 341.0,1286.5 C352.2,1292.6 366.5,1298.1 381.8,1302.9 C397.1,1307.7 419.3,1312.5 432.9,1315.1 C446.5,1317.6 453.3,1318.0 463.5,1318.2 C473.7,1318.4 482.2,1318.3 494.1,1316.1 C506.0,1313.9 521.3,1310.2 534.9,1304.9 C548.5,1299.6 564.5,1291.7 575.7,1284.5 C586.9,1277.3 595.4,1270.2 602.2,1262.0 C609.0,1253.8 613.4,1244.0 616.5,1235.5 C619.6,1227.0 620.2,1218.8 620.6,1211.0 C621.0,1203.2 619.3,1193.5 618.6,1188.6 C617.9,1183.7 616.9,1182.6 616.5,1181.4"/>
<path class="p" style="stroke-width:2.83;" d="M308.4,1196.7 C307.9,1201.1 303.9,1215.1 305.3,1223.3 C306.7,1231.5 308.9,1238.6 316.5,1245.7 C324.1,1252.8 338.6,1260.6 351.2,1266.1 C363.8,1271.5 376.7,1275.0 392.0,1278.4 C407.3,1281.8 426.1,1285.5 443.1,1286.5 C460.1,1287.5 477.1,1286.9 494.1,1284.5 C511.1,1282.1 529.8,1277.7 545.1,1272.2 C560.4,1266.8 575.4,1258.9 585.9,1251.8 C596.4,1244.7 603.3,1237.2 608.4,1229.4 C613.5,1221.6 615.5,1211.4 616.5,1204.9 C617.5,1198.4 614.8,1193.0 614.5,1190.6"/>
<path class="p" style="stroke-width:2.6;" d="M312.9,1198.8 C312.5,1202.5 308.8,1214.1 310.4,1221.2 C312.0,1228.3 314.9,1235.1 322.7,1241.6 C330.5,1248.1 345.1,1254.9 357.3,1260.0 C369.5,1265.1 381.5,1269.0 396.1,1272.2 C410.7,1275.4 428.8,1278.6 445.1,1279.4 C461.4,1280.2 477.8,1279.7 494.1,1277.3 C510.4,1274.9 528.8,1270.4 543.1,1265.1 C557.4,1259.8 570.3,1252.3 579.8,1245.7 C589.3,1239.1 595.6,1232.1 600.2,1225.3 C604.8,1218.5 606.1,1210.3 607.3,1204.9 C608.5,1199.5 607.3,1194.7 607.3,1192.7"/>
<path class="p" style="stroke-width:2.83;" d="M360.4,1174.3 C359.9,1176.0 357.3,1180.1 357.3,1184.5 C357.3,1188.9 357.3,1195.0 360.4,1200.8 C363.5,1206.6 367.0,1213.8 375.7,1219.2 C384.4,1224.7 399.5,1230.1 412.4,1233.5 C425.3,1236.9 439.7,1238.9 453.3,1239.6 C466.9,1240.3 480.5,1239.6 494.1,1237.6 C507.7,1235.5 524.7,1231.4 534.9,1227.3 C545.1,1223.2 551.6,1217.5 555.3,1213.1 C559.0,1208.7 557.0,1202.8 557.3,1200.8"/>
<path class="p" style="stroke-width:2.6;" d="M557.3,1200.8 L600.2,1219.2 L608.4,1215.1 L616.5,1182.4"/>
<path class="p" style="stroke-width:2.6;" d="M600.2,1219.2 L608.4,1225.3 L613.5,1221.2 L619.0,1190.6"/>
<path class="p" style="stroke-width:2.6;" d="M558.4,1188.6 L559.4,1198.8"/>
<path class="w" style="stroke-width:0;" d="M366.5,1135.5 C352.0,1145.7 365.0,1173.6 366.5,1184.5 C368.0,1195.4 370.8,1196.0 375.7,1200.8 C380.6,1205.6 386.6,1209.3 396.1,1213.1 C405.6,1216.8 420.0,1221.1 432.9,1223.3 C445.8,1225.5 460.1,1227.0 473.7,1226.3 C487.3,1225.6 503.6,1222.8 514.5,1219.2 C525.4,1215.6 533.2,1210.0 539.0,1204.9 C544.8,1199.8 547.3,1193.4 549.2,1188.6 C551.1,1183.8 550.9,1183.8 550.2,1176.3 C549.5,1168.8 561.2,1152.5 545.1,1143.7 C529.0,1134.9 483.1,1124.7 453.3,1123.3 C423.5,1121.9 381.0,1125.3 366.5,1135.5 Z"/>
<path class="p" style="stroke-width:3.78;" d="M366.5,1135.5 L366.5,1184.5"/>
<path class="p" style="stroke-width:3.78;" d="M366.5,1184.5 C368.0,1187.2 370.8,1196.0 375.7,1200.8 C380.6,1205.6 386.6,1209.3 396.1,1213.1 C405.6,1216.8 420.0,1221.1 432.9,1223.3 C445.8,1225.5 460.1,1227.0 473.7,1226.3 C487.3,1225.6 503.6,1222.8 514.5,1219.2 C525.4,1215.6 533.2,1210.0 539.0,1204.9 C544.8,1199.8 547.3,1193.4 549.2,1188.6 C551.1,1183.8 550.0,1178.3 550.2,1176.3"/>
<path class="p" style="stroke-width:2.36;" d="M367.6,1176.3 C369.3,1179.4 370.3,1187.5 377.8,1194.7 C385.3,1201.9 406.6,1215.1 412.4,1219.2"/>
<path class="p" style="stroke-width:3.54;" d="M411.4,1187.6 L412.4,1219.2"/>
<path class="p" style="stroke-width:3.07;" d="M371.6,1129.4 C372.6,1131.8 373.7,1139.3 377.8,1143.7 C381.9,1148.1 386.9,1152.2 396.1,1155.9 C405.3,1159.6 420.0,1164.0 432.9,1166.1 C445.8,1168.1 461.8,1168.9 473.7,1168.2 C485.6,1167.5 495.8,1164.7 504.3,1162.0 C512.8,1159.3 519.9,1154.8 524.7,1151.8 C529.5,1148.8 531.5,1145.0 532.9,1143.7"/>
<path class="p" style="stroke-width:3.07;" d="M368.6,1139.6 C369.8,1142.0 371.1,1149.5 375.7,1153.9 C380.3,1158.3 386.6,1162.5 396.1,1166.1 C405.6,1169.7 420.0,1173.4 432.9,1175.3 C445.8,1177.2 460.8,1178.1 473.7,1177.3 C486.6,1176.5 500.2,1173.4 510.4,1170.2 C520.6,1167.0 529.4,1161.7 534.9,1158.0 C540.4,1154.3 541.7,1149.5 543.1,1147.8"/>
<path class="p" style="stroke-width:1.89;" d="M371.6,1143.7 C373.0,1145.9 375.0,1152.7 379.8,1156.9 C384.6,1161.2 391.4,1165.7 400.2,1169.2 C409.0,1172.7 420.6,1176.2 432.9,1178.0 C445.1,1179.8 466.9,1179.7 473.7,1180.0"/>
<path class="p" style="stroke-width:2.83;" d="M367.6,1162.0 C370.0,1163.7 374.3,1169.0 381.8,1172.2 C389.3,1175.4 400.5,1179.0 412.4,1181.4 C424.3,1183.8 439.7,1186.0 453.3,1186.5 C466.9,1187.0 482.2,1186.2 494.1,1184.5 C506.0,1182.8 516.2,1179.7 524.7,1176.3 C533.2,1172.9 541.7,1166.1 545.1,1164.1"/>
<path class="p" style="stroke-width:4.25;" d="M371.6,1172.2 C375.0,1173.6 383.5,1177.8 392.0,1180.4 C400.5,1183.0 412.5,1185.9 422.7,1187.6 C432.9,1189.3 441.4,1190.3 453.3,1190.6 C465.2,1190.9 482.2,1191.0 494.1,1189.6 C506.0,1188.2 516.2,1185.3 524.7,1182.4 C533.2,1179.5 541.7,1173.9 545.1,1172.2"/>
<path class="p" style="stroke-width:3.54;" d="M506.3,1174.3 C508.7,1173.3 516.5,1170.4 520.6,1168.2 C524.7,1166.0 529.1,1162.2 530.8,1161.0"/>
<path class="p" style="stroke-width:3.54;" d="M445.1,1181.4 L463.5,1182.0"/>
<path class="w" style="stroke-width:0;" d="M394.3,1023.7 C389.9,1027.7 381.9,1034.7 376.9,1039.0 C371.9,1043.3 367.7,1045.7 364.2,1049.6 C360.7,1053.5 357.9,1058.0 355.8,1062.2 C353.7,1066.4 352.5,1071.0 351.6,1074.9 C350.7,1078.8 350.1,1081.4 350.5,1085.4 C350.9,1089.4 351.9,1094.5 353.7,1099.1 C355.5,1103.7 357.9,1108.6 361.1,1112.8 C364.3,1117.0 368.0,1120.5 372.7,1124.4 C377.4,1128.3 382.6,1133.7 389.5,1136.0 C396.4,1138.3 402.7,1137.8 413.8,1138.1 C424.9,1138.4 439.8,1139.0 456.0,1138.1 C472.2,1137.2 497.6,1135.9 510.8,1132.9 C524.0,1129.9 531.0,1131.6 535.0,1120.2 C539.0,1108.8 537.6,1081.9 535.0,1064.3 C532.4,1046.7 529.5,1026.2 519.2,1014.8 C508.9,1003.4 485.7,998.6 473.4,995.8 C461.1,993.0 453.6,996.5 445.4,997.9 C437.2,999.3 431.3,1001.4 424.3,1004.2 C417.3,1007.0 408.3,1011.5 403.3,1014.8 C398.3,1018.0 398.7,1019.7 394.3,1023.7 Z"/>
<path class="p" style="stroke-width:5.43;" d="M394.3,1023.7 C395.8,1022.2 398.3,1018.0 403.3,1014.8 C408.3,1011.5 417.3,1007.0 424.3,1004.2 C431.3,1001.4 437.8,999.6 445.4,997.9 C453.0,996.1 465.6,994.4 469.7,993.7"/>
<path class="p" style="stroke-width:4.01;" d="M469.7,993.7 L473.4,995.8 L473.4,1002.7 L469.7,1003.7"/>
<path class="p" style="stroke-width:3.78;" d="M403.3,1026.4 C405.1,1024.6 408.5,1018.9 413.8,1015.8 C419.1,1012.7 428.2,1009.7 434.9,1007.9 C441.6,1006.1 448.1,1005.5 453.9,1004.8 C459.7,1004.1 467.1,1003.9 469.7,1003.7"/>
<path class="p" style="stroke-width:2.6;" d="M407.5,1029.5 C409.2,1027.8 413.4,1022.4 418.0,1019.5 C422.6,1016.6 429.4,1014.0 434.9,1012.2 C440.3,1010.4 448.1,1009.3 450.7,1008.7"/>
<path class="p" style="stroke-width:2.95;" d="M453.9,1000.0 L453.9,1005.8"/>
<path class="p" style="stroke-width:2.95;" d="M460.2,999.0 L460.2,1004.5"/>
<path class="p" style="stroke-width:4.25;" d="M394.3,1023.7 C394.3,1027.3 393.5,1040.4 394.3,1045.4 C395.1,1050.4 396.6,1051.0 399.0,1053.8 C401.4,1056.6 403.8,1059.0 408.5,1062.2 C413.2,1065.4 420.5,1069.8 427.5,1072.8 C434.5,1075.8 443.3,1079.0 450.7,1080.1 C458.1,1081.1 464.8,1080.3 471.8,1079.1 C478.8,1077.9 488.0,1074.7 492.9,1072.8 C497.8,1070.9 499.9,1068.4 501.3,1067.5"/>
<path class="p" style="stroke-width:3.54;" d="M397.8,1025.3 L397.8,1039.6"/>
<path class="p" style="stroke-width:3.07;" d="M403.3,1032.7 L411.7,1025.3"/>
<path class="p" style="stroke-width:3.07;" d="M403.8,1032.7 L409.6,1039.0"/>
<path class="p" style="stroke-width:4.48;" d="M412.7,1034.8 C413.2,1033.2 413.1,1028.1 415.9,1025.3 C418.7,1022.5 423.8,1020.0 429.6,1018.0 C435.4,1016.0 443.7,1014.4 450.7,1013.5 C457.7,1012.6 465.3,1012.5 471.8,1012.9 C478.3,1013.2 485.5,1014.4 489.7,1015.6 C493.9,1016.8 495.9,1019.4 497.1,1020.1"/>
<path class="p" style="stroke-width:5.19;" d="M412.7,1034.8 C413.9,1036.6 416.4,1042.6 420.1,1045.4 C423.8,1048.2 428.9,1050.3 434.9,1051.7 C440.9,1053.1 449.0,1054.2 456.0,1053.8 C463.0,1053.4 470.0,1051.7 477.0,1049.6 C484.0,1047.5 492.1,1043.6 498.1,1041.1 C504.1,1038.6 510.4,1035.8 512.9,1034.8"/>
<path class="p" style="stroke-width:3.54;" d="M397.5,1039.0 C398.8,1040.4 401.6,1044.7 405.4,1047.5 C409.2,1050.3 415.7,1053.8 420.1,1055.9 C424.5,1058.0 429.8,1059.4 431.7,1060.1"/>
<path class="p" style="stroke-width:4.48;" d="M473.4,1003.2 L482.3,1003.7 L498.1,1016.9 L512.9,1012.7 L519.2,1014.8"/>
<path class="p" style="stroke-width:3.3;" d="M470.2,1007.9 L482.3,1008.5 L496.0,1019.0 L500.2,1020.6 L515.0,1022.2"/>
<ellipse cx="458.1" cy="1031.1" rx="16.9" ry="9.0" fill="none" stroke="#000" stroke-width="3.2"/>
<ellipse cx="458.1" cy="1031.4" rx="12.4" ry="6.0" fill="none" stroke="#000" stroke-width="2.2"/>
<ellipse cx="458.1" cy="1031.9" rx="7.6" ry="3.6" fill="none" stroke="#000" stroke-width="2.4"/>
<ellipse cx="458.1" cy="1032.7" rx="2.8" ry="1.8" class="k"/>
<path class="p" style="stroke-width:3.54;" d="M434.9,1064.3 L431.7,1064.3 L431.7,1057.5"/>
<path class="p" style="stroke-width:3.54;" d="M431.7,1057.5 C435.8,1057.7 448.4,1059.1 456.0,1058.5 C463.6,1057.9 470.0,1056.0 477.0,1053.8 C484.0,1051.6 493.8,1046.2 498.1,1045.4 C502.4,1044.6 502.1,1048.4 502.9,1049.0"/>
<path class="p" style="stroke-width:3.07;" d="M434.9,1064.3 C438.4,1064.3 449.9,1064.5 456.0,1064.3 C462.1,1064.0 469.2,1063.0 471.8,1062.8"/>
<path class="k" style="stroke-width:0;" d="M471.8,1062.2 L497.1,1053.3 L501.3,1057.0 L502.3,1064.3 L498.1,1067.5 L471.8,1071.7 L450.7,1073.3 L449.6,1067.0 Z"/>
<path class="p" stroke="#fcfcfc" style="stroke-width:1.42;" d="M450.7,1066.7 L466.5,1066.7"/>
<path class="p" style="stroke:#fcfcfc;stroke-width:1.06;" d="M472.8,1065.4 C475.3,1064.7 483.4,1062.6 487.6,1061.2 C491.8,1059.8 496.4,1057.7 498.1,1057.0"/>
<path class="p" style="stroke:#fcfcfc;stroke-width:1.06;" d="M472.8,1068.6 C475.3,1067.9 483.4,1065.7 487.6,1064.3 C491.8,1062.9 496.4,1060.8 498.1,1060.1"/>
<path class="p" style="stroke:#fcfcfc;stroke-width:1.06;" d="M472.8,1071.7 C475.3,1071.0 483.4,1068.9 487.6,1067.5 C491.8,1066.1 496.4,1064.0 498.1,1063.3"/>
<path class="p" style="stroke-width:2.36;" d="M429.6,1071.7 C432.2,1072.2 438.7,1074.7 445.4,1074.9 C452.1,1075.1 461.8,1074.2 469.7,1072.8 C477.6,1071.4 489.0,1067.5 492.9,1066.4"/>
<path class="p" style="stroke-width:3.54;" d="M502.9,1049.0 L504.5,1067.5 L500.8,1069.1"/>
<path class="p" style="stroke-width:3.54;" d="M506.6,1045.4 L519.2,1041.7 L519.2,1051.7 L506.6,1055.9 Z"/>
<path class="p" style="stroke-width:4.01;" d="M512.9,1034.8 L526.6,1041.7 L527.6,1047.5 L519.2,1052.7"/>
<path class="p" style="stroke-width:3.54;" d="M510.8,1059.1 C510.6,1060.5 511.3,1065.2 509.7,1067.5 C508.1,1069.8 501.1,1070.7 501.3,1072.8 C501.5,1074.9 506.9,1080.1 510.8,1080.1 C514.7,1080.1 520.6,1075.8 524.5,1072.8 C528.4,1069.8 532.4,1064.0 534.0,1062.2"/>
<path class="p" style="stroke-width:4.01;" d="M507.6,1026.4 L513.9,1034.8 L508.7,1025.3 L517.1,1024.3 L518.2,1032.7"/>
<path class="p" style="stroke-width:4.01;" d="M394.3,1027.4 C391.4,1029.3 381.9,1035.3 376.9,1039.0 C371.9,1042.7 367.7,1045.7 364.2,1049.6 C360.7,1053.5 357.9,1058.0 355.8,1062.2 C353.7,1066.4 352.5,1071.0 351.6,1074.9 C350.7,1078.8 350.1,1081.4 350.5,1085.4 C350.9,1089.4 351.9,1094.5 353.7,1099.1 C355.5,1103.7 357.9,1108.6 361.1,1112.8 C364.3,1117.0 370.8,1122.5 372.7,1124.4"/>
<path class="p" style="stroke-width:3.54;" d="M365.3,1052.7 C365.2,1054.5 363.2,1059.8 364.8,1063.3 C366.4,1066.8 373.1,1072.0 374.8,1073.8"/>
<path class="p" style="stroke-width:3.54;" d="M374.8,1073.8 L407.5,1064.3"/>
<path class="p" style="stroke-width:3.07;" d="M379.0,1075.9 L410.1,1068.0"/>
<path class="p" style="stroke-width:4.01;" d="M374.8,1079.1 C377.8,1080.5 386.2,1085.2 392.7,1087.5 C399.2,1089.8 406.8,1091.6 413.8,1092.8 C420.8,1094.0 427.9,1094.3 434.9,1094.4 C441.9,1094.5 448.1,1094.1 456.0,1093.3 C463.9,1092.5 473.2,1091.4 482.3,1089.6 C491.4,1087.8 506.1,1083.5 510.8,1082.3"/>
<path class="p" style="stroke-width:4.01;" d="M511.3,1082.8 L511.3,1132.9 L535.0,1120.2"/>
<path class="k" style="stroke-width:0;" d="M359.0,1064.3 L374.8,1079.1 L394.8,1090.7 L400.1,1111.8 L403.3,1127.6 L396.9,1131.8 L389.5,1136.5 L385.3,1131.8 L372.7,1124.4 L361.1,1112.8 L353.7,1099.1 L350.5,1085.4 L351.6,1074.9 L355.8,1064.3 Z"/>
<path class="w" style="stroke-width:0;" d="M358.4,1070.9 L362.7,1069.6 L370.6,1079.1 L367.6,1081.4 Z"/>
<path class="w" style="stroke-width:0;" d="M359.0,1077.5 L367.9,1086.5 L365.8,1089.6 L358.8,1080.1 Z"/>
<path class="w" style="stroke-width:0;" d="M354.2,1085.9 L363.7,1093.3 L363.2,1099.7 L354.8,1089.6 Z"/>
<path class="w" style="stroke-width:0;" d="M374.8,1086.5 L376.4,1085.9 L375.3,1089.1 L373.5,1089.1 Z"/>
<path class="w" style="stroke-width:0;" d="M379.0,1087.0 L389.5,1093.9 L391.7,1099.1 L379.5,1090.2 Z"/>
<path class="w" style="stroke-width:0;" d="M374.8,1092.8 L386.4,1100.2 L385.3,1101.2 L373.7,1094.4 Z"/>
<path class="w" style="stroke-width:0;" d="M369.5,1099.1 L373.7,1102.8 L369.0,1104.4 Z"/>
<path class="w" style="stroke-width:0;" d="M371.6,1106.5 L376.9,1105.4 L391.7,1117.0 L390.6,1119.2 Z"/>
<path class="w" style="stroke-width:0;" d="M387.4,1108.6 L396.9,1113.9 L397.5,1117.0 L386.4,1110.2 Z"/>
<path class="w" style="stroke-width:0;" d="M373.7,1119.2 L375.8,1118.1 L386.4,1126.5 L384.3,1127.1 Z"/>
<path class="w" style="stroke-width:0;" d="M389.5,1125.5 L396.9,1128.6 L395.9,1130.2 L389.0,1127.1 Z"/>
<path class="w" style="stroke-width:0;" d="M361.1,1106.5 L362.7,1108.1 L361.6,1109.7 Z"/>
<path class="w" style="stroke-width:0;" d="M369.5,1113.9 L371.6,1116.0 L370.0,1117.0 Z"/>
<path class="p" style="stroke:#fcfcfc;stroke-width:1.42;" d="M391.7,1089.6 C392.6,1091.5 395.3,1096.6 396.9,1101.2 C398.5,1105.8 400.3,1112.6 401.1,1117.0 C401.9,1121.4 401.9,1125.1 401.7,1127.6 C401.4,1130.1 400.0,1131.1 399.6,1131.8"/>
<path class="p" style="stroke-width:5.25;" d="M399.0,1094.4 C403.8,1094.8 418.0,1096.3 427.5,1096.5 C437.0,1096.7 447.0,1096.1 456.0,1095.4 C465.0,1094.7 477.1,1092.8 481.3,1092.3"/>
<path class="p" style="stroke-width:6.3;" d="M402.2,1110.2 C406.8,1110.4 420.6,1111.4 429.6,1111.2 C438.6,1111.0 447.4,1110.1 456.0,1109.1 C464.6,1108.0 471.7,1106.7 481.3,1104.9 C490.9,1103.2 508.5,1099.6 513.9,1098.6"/>
<path class="p" style="stroke-width:6.3;" d="M404.3,1122.8 C408.5,1123.0 421.0,1124.1 429.6,1123.9 C438.2,1123.7 447.4,1123.0 456.0,1121.8 C464.6,1120.6 471.7,1118.3 481.3,1116.5 C490.9,1114.7 508.5,1112.1 513.9,1111.2"/>
<path class="p" style="stroke-width:6.3;" d="M399.0,1132.3 C404.1,1132.7 420.1,1134.4 429.6,1134.4 C439.1,1134.4 447.4,1133.4 456.0,1132.3 C464.6,1131.2 474.3,1128.7 481.3,1127.6 C488.3,1126.5 495.3,1125.8 498.1,1125.5"/>
<path class="p" style="stroke-width:6.83;" d="M427.5,1093.3 L430.1,1134.4"/>
<path class="p" style="stroke-width:8.4;" d="M452.3,1094.9 L452.6,1144.5"/>
<path class="p" style="stroke-width:8.4;" d="M478.3,1091.7 L479.4,1129.7"/>
<path class="p" style="stroke-width:4.01;" d="M403.3,1095.4 L424.3,1107.0"/>
<path class="p" style="stroke-width:4.01;" d="M418.0,1099.1 L427.5,1105.4"/>
<path class="p" style="stroke-width:4.01;" d="M413.8,1113.9 L427.5,1122.3"/>
<path class="p" style="stroke-width:4.01;" d="M421.2,1116.0 L428.6,1120.2"/>
<path class="p" style="stroke-width:4.01;" d="M415.9,1126.5 L427.5,1131.8"/>
<path class="p" style="stroke-width:4.01;" d="M431.7,1102.3 L449.6,1104.4"/>
<path class="p" style="stroke-width:4.01;" d="M432.8,1116.5 L449.6,1117.6"/>
<path class="p" style="stroke-width:4.01;" d="M460.2,1114.9 L473.9,1113.9"/>
<path class="p" style="stroke-width:4.01;" d="M460.2,1120.7 L474.9,1119.4"/>
<path class="p" style="stroke-width:4.01;" d="M433.8,1133.1 L449.6,1131.0"/>
<path class="p" style="stroke-width:4.01;" d="M460.2,1129.9 L474.9,1126.7"/>
<path class="p" style="stroke-width:4.01;" d="M440.1,1129.2 L449.6,1128.6"/>
<path class="p" style="stroke-width:4.01;" d="M483.4,1127.6 L498.1,1126.0"/>
<path class="p" style="stroke-width:4.01;" d="M400.1,1093.9 L404.3,1110.7"/>
<path class="p" style="stroke-width:4.01;" d="M404.3,1110.7 L407.5,1131.8"/>
<path class="p" style="stroke-width:4.72;" d="M413.8,1136.0 L414.8,1146.6 L422.2,1147.6 L423.3,1142.3"/>
<path class="p" style="stroke-width:5.31;" d="M449.6,1138.1 L449.6,1145.5 L454.9,1145.5 L456.0,1138.1"/>
<path class="p" style="stroke-width:4.01;" d="M511.8,1097.5 L515.0,1098.1 L515.0,1101.2 L511.8,1101.2"/>
<path class="p" style="stroke-width:4.01;" d="M511.8,1111.2 L515.0,1111.2 L515.0,1114.4 L511.8,1114.9"/>
<path class="p" style="stroke-width:4.48;" d="M372.7,1124.4 C371.9,1126.0 368.7,1130.6 367.6,1133.9 C366.5,1137.2 366.2,1140.1 365.9,1144.5 C365.6,1148.9 365.8,1157.5 365.8,1160.1"/>
<path class="p" style="stroke-width:2.83;" d="M375.3,1127.6 C374.6,1129.3 371.9,1134.4 371.1,1138.1 C370.3,1141.8 370.3,1146.0 370.6,1149.7 C370.9,1153.4 372.4,1158.4 372.7,1160.1"/>
<path class="p" style="stroke-width:2.83;" d="M380.6,1130.7 C380.2,1131.9 377.6,1135.1 378.2,1138.1 C378.8,1141.1 380.8,1145.5 384.3,1148.7 C387.8,1151.9 396.6,1155.7 399.0,1157.1"/>
<path class="p" style="stroke-width:2.6;" d="M375.8,1141.3 C376.9,1143.2 379.7,1149.8 382.2,1152.9 C384.7,1156.0 389.2,1158.9 390.6,1160.1"/>
<path class="p" style="stroke-width:5.66;" d="M500.0,1013.7 C502.3,1013.6 510.7,1012.6 513.6,1013.0 C516.6,1013.4 513.2,1016.5 517.7,1015.8 C522.2,1015.1 533.9,1011.7 540.8,1009.0 C547.7,1006.3 556.1,1001.0 559.2,999.4"/>
<path class="p" style="stroke-width:3.3;" d="M520.4,1025.3 L587.1,1007.6"/>
<path class="p" style="stroke-width:2.83;" d="M522.4,1028.0 L584.3,1012.4"/>
<path class="p" style="stroke-width:4.01;" d="M506.8,1026.6 L516.3,1030.7 L520.4,1025.3"/>
<path class="p" style="stroke-width:5.25;" d="M508.2,1028.0 L513.6,1036.2"/>
<path class="p" style="stroke-width:2.36;" d="M551.0,1011.7 L559.8,1003.5"/>
<path class="p" style="stroke-width:4.72;" d="M559.2,1000.8 L559.2,994.0 L578.9,988.6 L587.1,985.8 L600.7,991.3"/>
<path class="p" style="stroke-width:5.43;" d="M562.6,1000.8 L562.6,1017.1"/>
<path class="p" style="stroke-width:3.07;" d="M567.3,1000.8 L567.3,1017.1"/>
<path class="p" style="stroke-width:5.25;" d="M587.1,992.6 L585.0,1019.8"/>
<path class="p" style="stroke-width:4.01;" d="M592.5,1000.8 L591.1,1019.8"/>
<path class="p" style="stroke-width:3.54;" d="M600.0,994.0 L600.0,1017.1"/>
<path class="p" style="stroke-width:4.01;" d="M565.3,996.0 C566.6,996.1 571.6,995.5 573.4,996.7 C575.2,998.0 574.6,1003.3 576.2,1003.5 C577.8,1003.7 581.9,999.0 583.0,998.1"/>
<path class="p" style="stroke-width:4.01;" d="M584.3,991.3 C585.2,992.0 588.2,995.2 589.8,995.4 C591.4,995.6 593.2,993.1 593.9,992.6"/>
<path class="p" style="stroke-width:3.54;" d="M593.9,1000.8 L599.3,1004.9"/>
<path class="p" style="stroke-width:3.54;" d="M593.9,1011.7 L597.9,1012.4"/>
<path class="p" style="stroke-width:3.3;" d="M600.7,986.5 C601.2,987.5 602.7,990.3 603.4,992.6 C604.1,994.9 604.5,998.9 604.7,1000.1"/>
<path class="p" style="stroke-width:3.3;" d="M600.7,986.5 L633.3,975.0"/>
<path class="p" style="stroke-width:3.3;" d="M633.3,975.0 C634.4,975.5 638.3,975.4 640.1,977.7 C641.9,980.0 643.9,985.4 644.2,988.6 C644.5,991.8 643.5,995.0 642.1,996.7 C640.7,998.4 637.0,998.4 636.0,998.8"/>
<path class="p" style="stroke-width:3.54;" d="M604.7,1000.1 L631.9,993.3 L631.9,998.8"/>
<path class="p" style="stroke-width:3.54;" d="M608.8,1004.9 L636.0,1000.8 L642.1,1004.9 L642.1,1009.0 L630.6,1011.7 L614.3,1011.7"/>
<path class="p" style="stroke-width:5.25;" d="M604.7,1000.8 L636.0,1000.8"/>
<path class="p" style="stroke-width:2.36;" d="M619.7,1006.9 L641.5,1005.6"/>
<path class="p" style="stroke-width:3.07;" d="M530.6,1034.1 L625.1,1006.9"/>
<path class="p" style="stroke-width:3.3;" d="M531.3,1040.3 L574.1,1030.7 L574.1,1040.3 L624.5,1026.6"/>
<path class="p" style="stroke-width:3.07;" d="M532.6,1047.1 C536.2,1046.1 548.0,1042.0 554.4,1040.9 C560.8,1039.8 568.0,1040.4 570.7,1040.3"/>
<path class="p" style="stroke-width:3.07;" d="M575.5,1041.6 L625.1,1028.0"/>
<path class="p" style="stroke-width:3.07;" d="M536.7,1052.5 L615.6,1033.4"/>
<path class="p" style="stroke-width:2.83;" d="M550.3,1055.2 L615.6,1044.3"/>
<path class="p" style="stroke-width:2.83;" d="M561.2,1060.7 L618.3,1049.8"/>
<path class="p" style="stroke-width:2.83;" d="M550.3,1055.2 L561.2,1060.7"/>
<path class="p" style="stroke-width:4.01;" d="M529.2,1041.6 L532.6,1048.4 L536.7,1053.9"/>
<path class="p" style="stroke-width:2.36;" d="M538.1,1048.4 C539.7,1048.0 544.2,1046.3 547.6,1045.7 C551.0,1045.1 556.7,1045.1 558.5,1045.0"/>
<path class="p" style="stroke-width:3.54;" d="M629.2,1014.4 L627.9,1030.7 L633.3,1047.1 L636.7,1053.9"/>
<path class="p" style="stroke-width:3.54;" d="M634.0,1014.4 L636.0,1032.1 L634.0,1033.4 L633.3,1044.3"/>
<path class="p" style="stroke-width:3.07;" d="M624.5,1026.6 L619.7,1036.2 L615.6,1044.3"/>
<path class="p" style="stroke-width:2.83;" d="M618.3,1047.1 L630.6,1044.3 L618.3,1053.9 L634.7,1049.8"/>
<path class="p" style="stroke-width:3.3;" d="M500.0,1040.3 L506.8,1038.9 L519.0,1041.6 L519.0,1048.4 L506.8,1052.5 L506.8,1040.3"/>
<path class="p" style="stroke-width:3.54;" d="M500.0,1063.4 C501.8,1063.0 508.9,1062.1 510.9,1060.7 C512.9,1059.3 509.5,1057.5 512.2,1055.2 C514.9,1052.9 524.4,1049.4 527.2,1047.1 C530.0,1044.8 528.9,1042.5 529.2,1041.6"/>
<path class="p" style="stroke-width:3.54;" d="M500.0,1075.6 C501.8,1076.3 506.4,1080.4 510.9,1079.7 C515.4,1079.0 523.4,1074.7 527.2,1071.5 C531.1,1068.3 532.9,1062.5 534.0,1060.7"/>
<path class="p" style="stroke-width:4.01;" d="M511.6,1081.1 L511.6,1130.0 L508.8,1131.4"/>
<path class="p" style="stroke-width:3.54;" d="M511.6,1128.0 L519.0,1124.6"/>
<path class="p" style="stroke-width:5.31;" d="M500.0,1098.7 L513.6,1097.4 L513.6,1101.5"/>
<path class="p" style="stroke-width:5.31;" d="M500.0,1111.0 L513.6,1109.6 L513.6,1113.7"/>
<path class="p" style="stroke-width:3.54;" d="M500.0,1093.3 L511.6,1090.6"/>
<path class="p" style="stroke-width:3.54;" d="M500.0,1105.5 L511.6,1102.8"/>
<path class="p" style="stroke-width:3.54;" d="M500.0,1117.8 L511.6,1115.1"/>
<path class="p" style="stroke-width:5.67;" d="M534.7,1060.7 L534.7,1111.0"/>
<path class="p" style="stroke-width:3.07;" d="M540.8,1062.0 L540.8,1079.7"/>
<path class="p" style="stroke-width:3.54;" d="M543.3,1082.4 C543.1,1084.7 542.8,1091.9 542.4,1096.0 C542.0,1100.1 541.1,1105.1 540.8,1106.9"/>
<path class="k" style="stroke-width:0;" d="M546.2,1062.0 L557.1,1061.3 L559.8,1068.8 L554.4,1116.4 L544.9,1117.8 L543.5,1109.6 L546.9,1082.4 Z"/>
<path class="w" style="stroke-width:0;" d="M547.6,1063.4 L548.6,1063.4 L548.0,1079.7 L547.1,1079.7 Z"/>
<path class="w" style="stroke-width:0;" d="M551.0,1070.2 L555.8,1070.2 L555.8,1075.6 L551.0,1075.6 Z"/>
<path class="k" style="stroke-width:0;" d="M554.4,1068.8 L687.7,1040.3 L695.9,1044.3 L699.9,1055.2 L699.9,1079.7 L695.9,1085.1 L692.5,1079.7 L692.5,1052.5 L606.1,1075.6 L604.7,1068.8 L559.8,1078.3 Z"/>
<path class="p" style="stroke-width:4.01;" d="M555.8,1106.2 L692.5,1066.1"/>
<path class="p" style="stroke-width:3.54;" d="M559.8,1078.3 L555.8,1106.2 L554.4,1116.4 L546.2,1126.6"/>
<path class="p" style="stroke-width:4.01;" d="M565.3,1081.1 L603.4,1068.8 L603.4,1075.6 L570.7,1096.0 L566.6,1094.0 Z"/>
<path class="k" style="stroke-width:0;" d="M569.4,1083.8 L571.4,1083.1 L572.8,1090.6 L570.7,1091.9 Z"/>
<path class="k" style="stroke-width:0;" d="M577.5,1081.1 L580.3,1080.4 L580.9,1087.2 L578.9,1087.9 Z"/>
<path class="k" style="stroke-width:0;" d="M587.1,1078.3 L590.5,1078.3 L590.5,1081.7 L587.7,1081.7 Z"/>
<path class="k" style="stroke-width:0;" d="M596.6,1075.6 L600.7,1074.9 L600.7,1077.0 L597.3,1077.7 Z"/>
<path class="p" style="stroke-width:3.54;" d="M566.6,1094.0 L570.7,1096.0"/>
<path class="p" style="stroke-width:3.54;" d="M546.2,1126.6 C554.2,1125.6 576.9,1124.2 593.9,1120.5 C610.9,1116.8 634.0,1110.1 648.3,1104.2 C662.6,1098.3 672.1,1089.2 679.5,1085.1 C686.9,1081.0 690.3,1080.6 692.5,1079.7"/>
<path class="p" style="stroke-width:3.54;" d="M546.2,1126.6 L559.8,1126.6"/>
<path class="p" style="stroke-width:4.01;" d="M695.9,1085.1 C695.0,1089.2 692.4,1102.1 690.4,1109.6 C688.4,1117.1 687.0,1123.2 683.6,1130.0 C680.2,1136.8 674.5,1145.2 670.0,1150.4 C665.5,1155.6 660.5,1158.6 656.4,1161.3 C652.3,1164.0 652.1,1163.5 645.5,1166.7 C638.9,1169.9 621.5,1174.8 617.0,1180.3 C612.5,1185.8 618.1,1196.6 618.3,1199.9"/>
<path class="p" style="stroke-width:6.3;" d="M683.6,1120.5 L682.9,1131.4"/>
<path class="p" style="stroke-width:3.07;" d="M680.9,1087.9 C679.8,1091.5 677.0,1101.9 674.1,1109.6 C671.2,1117.3 668.2,1126.2 663.2,1134.1 C658.2,1142.0 647.4,1153.3 644.2,1157.2"/>
<path class="p" style="stroke-width:3.07;" d="M663.2,1102.8 C661.4,1107.3 656.8,1122.1 652.3,1130.0 C647.8,1137.9 638.7,1147.0 636.0,1150.4"/>
<path class="p" style="stroke-width:3.07;" d="M646.9,1105.5 C645.1,1109.1 639.6,1121.2 636.0,1127.3 C632.4,1133.4 626.9,1139.8 625.1,1142.3"/>
<path class="p" style="stroke-width:3.07;" d="M617.0,1116.4 L607.5,1127.3"/>
<path class="p" style="stroke-width:3.3;" d="M593.9,1120.5 C596.4,1122.1 602.7,1125.0 608.8,1130.0 C614.9,1135.0 625.1,1145.2 630.6,1150.4 C636.1,1155.6 639.7,1159.5 641.5,1161.3"/>
<path class="p" style="stroke-width:3.07;" d="M619.7,1113.7 C622.4,1116.2 631.0,1125.3 636.0,1128.7 C641.0,1132.1 643.7,1133.3 649.6,1134.1 C655.5,1134.9 667.8,1133.5 671.4,1133.4"/>
<path class="p" style="stroke-width:3.07;" d="M663.2,1101.5 L671.4,1106.9"/>
<path class="p" style="stroke-width:4.01;" d="M648.3,1104.2 L660.5,1102.8"/>
<path class="p" style="stroke-width:3.3;" d="M563.9,1185.8 L630.6,1151.8"/>
<path class="p" style="stroke-width:3.3;" d="M568.0,1188.5 L644.2,1159.9"/>
<path class="p" style="stroke-width:3.07;" d="M636.0,1153.1 L638.7,1158.6"/>
<path class="p" style="stroke-width:3.07;" d="M641.5,1159.3 L645.5,1166.7"/>
<path class="p" style="stroke-width:3.54;" d="M559.8,1126.6 C558.7,1127.4 554.6,1129.7 553.0,1131.4 C551.4,1133.1 551.0,1133.6 550.3,1136.8 C549.6,1140.0 549.0,1145.9 549.0,1150.4 C549.0,1154.9 549.4,1159.7 550.3,1164.0 C551.2,1168.3 552.1,1172.7 554.4,1176.3 C556.7,1179.9 562.3,1184.2 563.9,1185.8"/>
<path class="p" style="stroke-width:5.25;" d="M546.2,1143.6 L546.2,1199.9"/>
<path class="p" style="stroke-width:3.54;" d="M551.7,1180.3 L551.7,1191.2 L558.5,1199.9"/>
<path class="p" style="stroke-width:5.19;" d="M559.8,1189.9 C563.9,1190.7 575.0,1194.5 584.3,1194.6 C593.6,1194.7 610.4,1191.2 615.6,1190.5"/>
<path class="p" style="stroke-width:3.54;" d="M608.8,1191.2 L608.8,1199.9"/>
<path class="p" style="stroke-width:4.25;" d="M619.7,1183.1 L620.4,1199.9"/>
<path class="p" style="stroke-width:3.07;" d="M610.2,1191.2 L615.6,1191.2"/>
<path class="p" style="stroke-width:3.54;" d="M519.0,1128.7 C519.7,1130.0 520.8,1134.3 523.1,1136.8 C525.4,1139.3 529.0,1141.4 532.6,1143.6 C536.2,1145.8 542.9,1148.7 544.9,1149.7"/>
<path class="p" style="stroke-width:3.54;" d="M529.2,1121.9 C528.9,1123.9 526.4,1130.9 527.2,1134.1 C528.0,1137.3 530.9,1138.9 534.0,1140.9 C537.1,1142.9 543.7,1145.4 545.6,1146.3"/>
<path class="p" style="stroke-width:3.07;" d="M538.1,1120.5 C537.8,1122.3 535.5,1128.0 536.0,1131.4 C536.5,1134.8 540.0,1139.3 540.8,1140.9"/>
<path class="p" style="stroke-width:3.07;" d="M534.0,1109.6 L524.5,1127.3"/>
<path class="p" style="stroke-width:3.07;" d="M542.2,1102.8 L534.0,1120.5"/>
<path class="p" style="stroke-width:2.83;" d="M544.9,1116.4 L539.4,1130.0"/>
<path class="p" style="stroke-width:2.83;" d="M544.9,1130.0 C544.5,1131.1 542.0,1134.8 542.2,1136.8 C542.4,1138.8 545.5,1141.4 546.2,1142.3"/>
<path class="p" style="stroke-width:3.07;" d="M536.7,1150.4 L540.8,1151.8 L540.8,1157.2 L536.7,1155.9 Z"/>
<path class="p" style="stroke-width:2.83;" d="M532.6,1147.7 L534.0,1155.9"/>
<path class="p" style="stroke-width:3.07;" d="M500.0,1164.0 C503.4,1162.7 515.0,1158.6 520.4,1155.9 C525.8,1153.2 530.6,1149.1 532.6,1147.7"/>
<path class="p" style="stroke-width:2.83;" d="M500.0,1174.9 C503.6,1173.5 515.4,1170.1 521.8,1166.7 C528.1,1163.3 535.4,1156.5 538.1,1154.5"/>
<path class="p" style="stroke-width:2.83;" d="M500.0,1184.4 C504.5,1182.6 520.0,1177.6 527.2,1173.5 C534.5,1169.4 540.8,1162.2 543.5,1159.9"/>
<path class="p" style="stroke-width:4.01;" d="M519.0,1165.4 L527.2,1161.3"/>
<path class="p" style="stroke-width:3.54;" d="M508.2,1172.2 L515.0,1169.5"/>
</g>
<g id="left">
<path class="pw" style="stroke-width:3.8;" d="M419.9,681.3 C420.1,679.0 419.6,674.8 421.5,671.6 C423.4,668.4 426.9,664.5 431.2,661.9 C435.5,659.3 441.9,657.0 447.3,655.9 C452.7,654.8 454.5,654.7 463.5,655.4 C472.5,656.1 487.7,658.8 501.2,660.2 C514.7,661.6 533.6,663.1 544.4,664.0 C555.2,664.9 559.4,664.2 565.9,665.6 C572.4,667.0 577.5,669.6 583.2,672.6 C589.0,675.6 595.2,679.4 600.4,683.4 C605.6,687.4 611.2,693.5 614.4,696.4 C617.6,699.3 617.4,699.1 619.8,700.7 C622.2,702.3 627.4,703.8 629.0,706.1 C630.6,708.4 630.1,712.3 629.5,714.7 C628.9,717.1 627.2,719.4 625.2,720.6 C623.2,721.9 619.9,722.8 617.7,722.2 C615.6,721.6 629.0,719.5 612.3,716.8 C595.6,714.1 535.0,706.9 517.4,706.1 C499.8,705.3 511.1,710.6 506.6,712.0 C502.1,713.4 496.8,714.6 490.5,714.7 C484.2,714.8 475.5,714.3 468.9,712.5 C462.2,710.7 456.9,707.1 450.6,703.9 C444.3,700.7 436.2,696.1 431.2,693.1 C426.2,690.1 422.3,687.6 420.4,685.6 C418.5,683.6 419.7,683.6 419.9,681.3 Z"/>
<path class="p" style="stroke-width:4.6;" d="M422.0,677.5 C423.2,678.7 424.8,682.1 429.0,684.5 C433.2,686.9 438.9,689.9 447.3,692.0 C455.8,694.1 468.9,696.4 479.7,696.9 C490.5,697.4 505.2,696.8 512.0,695.3 C518.8,693.8 519.2,689.0 520.6,687.7"/>
<path class="p" style="stroke-width:2;" d="M424.9,672.1 C425.7,673.3 425.9,676.8 429.6,679.3 C433.3,681.8 444.4,685.9 447.3,687.2"/>
<path class="p" style="stroke-width:3.8;" d="M434.4,667.2 C435.8,665.1 442.4,662.1 447.3,660.8 C452.2,659.5 457.2,659.0 463.5,659.2 C469.8,659.4 479.5,660.4 485.1,661.9 C490.7,663.4 493.1,665.2 496.9,668.3 C500.7,671.3 505.2,676.6 507.7,680.2 C510.2,683.8 514.9,688.1 512.0,689.9 C509.1,691.7 499.5,692.3 490.5,691.0 C481.5,689.7 466.7,685.3 458.1,682.3 C449.5,679.3 442.6,675.7 438.7,673.2 C434.8,670.7 433.0,669.3 434.4,667.2 Z"/>
<path class="p" style="stroke-width:2.6;" d="M492.6,665.1 C494.9,666.9 503.0,672.0 506.6,675.9 C510.2,679.8 512.9,686.6 514.2,688.8"/>
<path class="p" style="stroke-width:3.4;" d="M498.0,663.5 C500.3,665.2 508.3,669.8 512.0,673.7 C515.7,677.7 519.2,684.2 520.1,687.2 C521.0,690.2 517.9,691.2 517.4,692.0"/>
<path class="k" style="stroke-width:0;" d="M449.5,666.2 L456.5,663.5 L463.0,668.3 L471.1,667.2 L468.9,664.0 L463.5,663.5 L475.4,661.9 L484.0,664.0 L489.4,671.6 L495.3,671.6 L495.3,678.6 L488.3,678.6 L484.0,672.1 L475.4,675.3 L463.5,679.6 L456.0,673.2 Z"/>
<path class="w" style="stroke-width:0;" d="M456.5,667.8 L463.0,674.3 L468.9,673.2 L464.1,668.3 Z"/>
<path class="w" style="stroke-width:0;" d="M475.4,666.2 L481.8,673.2 L485.1,668.3 L479.7,664.6 Z"/>
<path class="w" style="stroke-width:0;" d="M489.4,673.2 L492.1,673.2 L492.1,675.9 L489.4,675.9 Z"/>
<path class="k" style="stroke-width:0;" d="M515.3,669.4 C515.3,668.7 519.8,669.9 522.8,670.5 C525.8,671.1 530.4,673.2 533.6,673.2 C536.8,673.2 538.6,671.3 542.2,670.5 C545.8,669.7 550.8,668.1 555.1,668.3 C559.4,668.5 564.5,670.1 568.1,671.6 C571.7,673.1 574.6,675.2 576.7,677.0 C578.9,678.8 581.0,680.9 581.0,682.3 C581.0,683.7 578.9,685.2 576.7,685.6 C574.6,686.0 571.2,685.2 568.1,684.5 C565.0,683.8 561.5,682.1 558.4,681.3 C555.3,680.5 552.1,679.4 549.8,679.6 C547.5,679.8 546.6,681.7 544.4,682.3 C542.2,682.9 539.0,683.9 536.8,683.4 C534.6,682.9 533.7,680.5 531.4,679.1 C529.1,677.7 525.5,676.4 522.8,674.8 C520.1,673.2 515.3,670.1 515.3,669.4 Z"/>
<path class="k" style="stroke-width:0;" d="M581.0,675.9 C582.1,675.2 586.7,677.3 589.6,679.1 C592.5,680.9 596.4,684.4 598.3,686.7 C600.2,689.0 601.2,691.7 601.0,693.1 C600.8,694.5 599.1,695.6 597.2,695.3 C595.3,694.9 591.9,693.0 589.6,691.0 C587.3,689.0 584.6,685.9 583.2,683.4 C581.8,680.9 579.9,676.6 581.0,675.9 Z"/>
<path class="w" style="stroke-width:0;" d="M515.8,670.5 L518.7,670.5 L519.1,673.2 Z"/>
<path class="w" style="stroke-width:0;" d="M560.5,681.3 L568.1,681.8 L568.1,682.9 L560.5,682.3 Z"/>
<path class="w" style="stroke-width:0;" d="M591.8,682.3 L594.0,682.3 L595.0,685.6 L592.9,685.6 Z"/>
<path class="w" style="stroke-width:0;" d="M583.2,675.9 L584.8,675.9 L585.3,677.5 L583.7,677.5 Z"/>
<path class="p" style="stroke-width:3.4;" d="M512.0,663.5 L560.5,666.2"/>
<path class="p" style="stroke-width:2.8;" d="M531.4,679.1 C532.3,680.4 535.3,684.2 536.8,686.7 C538.2,689.2 539.5,693.0 540.1,694.2"/>
<path class="p" style="stroke-width:2;" d="M534.7,682.3 C535.4,683.4 537.8,686.8 539.0,688.8 C540.2,690.8 541.2,693.3 541.7,694.2"/>
<path class="p" style="stroke-width:3.2;" d="M450.6,693.1 L449.5,703.4"/>
<path class="p" style="stroke-width:2.6;" d="M455.4,694.2 L454.3,706.1"/>
<path class="p" style="stroke-width:3.2;" d="M513.1,695.3 L512.0,708.2"/>
<path class="p" style="stroke-width:2.6;" d="M518.5,696.4 L517.4,706.6"/>
<path class="p" style="stroke-width:3.4;" d="M518.5,696.4 L600.4,705.0 L604.7,713.6"/>
<path class="p" style="stroke-width:2.6;" d="M520.6,700.7 L602.6,709.1"/>
<path class="p" style="stroke-width:3.2;" d="M604.7,707.1 L604.7,713.1"/>
<path class="p" style="stroke-width:3;" d="M614.4,713.6 L619.3,706.1"/>
<ellipse cx="620.4" cy="714.1" rx="4" ry="3" fill="#fcfcfc" stroke="#000" stroke-width="2.2" transform="rotate(-20 620.4 714.1)"/>
<path class="p" style="stroke-width:2.6;" d="M600.4,683.4 C601.5,685.0 604.9,689.3 606.9,693.1 C608.9,696.9 611.4,703.9 612.3,706.1"/>
<path d="M307.5,1443 V1471 A146.3,78 0 0 0 600.1,1471 V1443" fill="#fcfcfc" stroke="#000" stroke-width="3.8"/>
<path d="M311,1474 A142.8,72.5 0 0 0 596.6,1474" fill="none" stroke="#000" stroke-width="2"/>
<ellipse cx="453.8" cy="1443.0" rx="146.4" ry="78.0" fill="#fcfcfc" stroke="#000" stroke-width="4"/>
<path class="k" d="M309,1443 A145,78 0 0 0 599,1443 A145,54 0 0 1 309,1443 Z"/>
<ellipse cx="453.8" cy="1442.5" rx="139.5" ry="72.0" fill="none" stroke="#000" stroke-width="1.6"/>
<ellipse cx="453.8" cy="1441.0" rx="129.0" ry="57.0" fill="none" stroke="#000" stroke-width="4.6"/>
<ellipse cx="453.8" cy="1452.0" rx="122.5" ry="49.0" fill="#fcfcfc" stroke="#000" stroke-width="5.4"/>
<path d="M330,1440 A124,53 0 0 1 577,1440" fill="none" stroke="#000" stroke-width="2"/>
<path d="M318,1463 A136,62 0 0 0 590,1463" fill="none" stroke="#fcfcfc" stroke-width="1" stroke-dasharray="14 3 6 3"/>
<rect class="k" x="476.5" y="1368.5" width="7.2" height="18.5"/><rect class="k" x="490.9" y="1369.5" width="7.2" height="18.5"/><rect class="w" x="483.7" y="1372" width="7.2" height="12"/>
<path d="M322,1415 V1450 M328,1412 V1416 M583,1440 v10 m-5,4 h6" stroke="#000" stroke-width="2.4" fill="none"/>
<ellipse class="k" cx="399.2" cy="1524.9" rx="5.3" ry="4.8"/>
<ellipse class="k" cx="481.6" cy="1529" rx="5.3" ry="4.8"/>
<ellipse class="k" cx="554.8" cy="1508.4" rx="4.8" ry="4.4"/>
<ellipse class="k" cx="334.3" cy="1497.5" rx="4.2" ry="3.8"/>
<ellipse class="k" cx="412.6" cy="1495" rx="2.6" ry="2.4"/>
<ellipse class="k" cx="428" cy="1496" rx="2.6" ry="2.4"/>
<ellipse class="w" cx="399.7" cy="1524.4" rx="1.3" ry="1"/>
<ellipse class="w" cx="482.1" cy="1528.5" rx="1.3" ry="1"/>
<ellipse class="w" cx="555.3" cy="1507.9" rx="1.3" ry="1"/>
<path class="pw" style="stroke-width:2.8;" d="M567.1,1332.2 C572.4,1333.2 586.9,1338.1 599.1,1338.4 C611.3,1338.8 628.3,1336.9 640.3,1334.3 C652.3,1331.7 662.6,1327.0 671.2,1323.0 C679.8,1319.0 686.6,1314.0 691.8,1310.6 C696.9,1307.2 700.4,1303.8 702.1,1302.4 L705.2,1329.2 C703.0,1331.6 699.2,1338.8 691.8,1343.6 C684.4,1348.4 672.9,1354.2 660.9,1358.0 C648.9,1361.8 631.7,1365.0 619.7,1366.2 C607.7,1367.4 596.9,1366.1 588.8,1365.2 C580.7,1364.3 574.2,1361.8 571.3,1361.1 Z"/>
<path class="p" style="stroke-width:3.4;" d="M567.1,1332.2 L571.3,1361.1"/>
<path class="p" style="stroke-width:2.2;" d="M573.9,1336.4 L576.8,1358.0"/>
<path class="k" style="stroke-width:0;" d="M575.4,1335.7 L619.7,1340.7 L660.9,1339.0 L662.6,1344.4 L644.8,1348.5 L643.2,1358.4 L611.5,1360.1 L582.2,1356.4 L578.1,1348.1 Z"/>
<path class="w" style="stroke-width:0;" d="M582.6,1345.2 L592.9,1345.2 L592.9,1347.7 L582.6,1349.8 Z"/>
<path class="w" style="stroke-width:0;" d="M599.1,1351.8 L607.3,1351.8 L607.3,1354.3 L599.1,1354.3 Z"/>
<path class="w" style="stroke-width:0;" d="M617.6,1345.2 L619.7,1345.2 L619.7,1351.8 L617.6,1351.8 Z"/>
<path class="w" style="stroke-width:0;" d="M625.9,1344.6 L627.9,1344.6 L627.9,1350.8 L625.9,1350.8 Z"/>
<path class="w" style="stroke-width:0;" d="M632.1,1351.8 L640.3,1351.8 L640.3,1353.1 L632.1,1353.1 Z"/>
<ellipse cx="460.0" cy="1679.5" rx="212.0" ry="113.2" fill="#fcfcfc" stroke="#000" stroke-width="4"/>
<ellipse cx="460.0" cy="1677.2" rx="207.6" ry="107.5" fill="none" stroke="#000" stroke-width="1.8"/>
<path d="M248,1682 A212,113.2 0 0 0 672,1682" fill="none" stroke="#000" stroke-width="5"/>
<ellipse cx="459.7" cy="1665.4" rx="191.0" ry="92.4" fill="#fcfcfc" stroke="#000" stroke-width="4"/>
<path d="M270,1668 A191,92.4 0 0 0 650,1668" fill="none" stroke="#000" stroke-width="5.4"/>
<ellipse cx="459.7" cy="1661.5" rx="182.0" ry="86.5" fill="none" stroke="#000" stroke-width="2.4"/>
<path d="M280,1672 A182,80 0 0 0 640,1672" fill="none" stroke="#fcfcfc" stroke-width="1" stroke-dasharray="16 4"/>
<ellipse cx="459.7" cy="1659.8" rx="171.5" ry="80.0" fill="none" stroke="#000" stroke-width="2.6"/>
<ellipse cx="459.7" cy="1655.9" rx="125.6" ry="62.2" fill="none" stroke="#000" stroke-width="3.4"/>
<path d="M285,1707 l8,4 5,7 -6,5 -8,-7 z M546,1747 l18,-4 3,6 -17,5 z" fill="#fcfcfc" stroke="#000" stroke-width="2.4" stroke-linejoin="round"/>
<clipPath id="cpad"><ellipse cx="459.7" cy="1655.9" rx="124.5" ry="61.2"/></clipPath>
<g clip-path="url(#cpad)">
<path class="k" d="M462.9,1624.4 L477.0,1592.2 L510.6,1596.9 L489.5,1628.1 Z"/>
<path d="M470.6,1618.5 L489.1,1621.1" stroke="#fcfcfc" stroke-width="2.2" fill="none"/>
<path d="M472.0,1613.5 L493.0,1616.4" stroke="#fcfcfc" stroke-width="2.2" fill="none"/>
<path d="M473.4,1608.5 L496.9,1611.8" stroke="#fcfcfc" stroke-width="2.2" fill="none"/>
<path d="M483.0,1604.3 L485.3,1596.1" stroke="#fcfcfc" stroke-width="2.4" fill="none"/>
<path d="M493.1,1605.7 L499.5,1598.1" stroke="#fcfcfc" stroke-width="2.4" fill="none"/>
<path d="M461.9,1621.3 L470.4,1593.1" stroke="#000" stroke-width="2.4" fill="none"/>
<path d="M493.7,1625.7 L515.3,1599.4" stroke="#000" stroke-width="2.4" fill="none"/>
<path class="k" d="M506.5,1634.8 L562.0,1617.0 L579.2,1632.1 L520.1,1646.8 Z"/>
<path d="M520.3,1633.3 L529.8,1641.6" stroke="#fcfcfc" stroke-width="2.2" fill="none"/>
<path d="M528.4,1630.2 L539.1,1639.7" stroke="#fcfcfc" stroke-width="2.2" fill="none"/>
<path d="M536.5,1627.2 L548.5,1637.8" stroke="#fcfcfc" stroke-width="2.2" fill="none"/>
<path d="M549.2,1627.6 L562.4,1622.7" stroke="#fcfcfc" stroke-width="2.4" fill="none"/>
<path d="M554.4,1632.2 L569.6,1629.1" stroke="#fcfcfc" stroke-width="2.4" fill="none"/>
<path d="M510.3,1632.2 L556.1,1615.3" stroke="#000" stroke-width="2.4" fill="none"/>
<path d="M526.5,1646.5 L579.0,1635.6" stroke="#000" stroke-width="2.4" fill="none"/>
<path class="k" d="M522.7,1657.5 L587.2,1664.5 L577.8,1681.3 L515.3,1670.8 Z"/>
<path d="M534.6,1661.3 L529.5,1670.6" stroke="#fcfcfc" stroke-width="2.2" fill="none"/>
<path d="M544.6,1662.0 L538.8,1672.5" stroke="#fcfcfc" stroke-width="2.2" fill="none"/>
<path d="M554.6,1662.7 L548.1,1674.5" stroke="#fcfcfc" stroke-width="2.2" fill="none"/>
<path d="M563.1,1667.5 L579.3,1668.7" stroke="#fcfcfc" stroke-width="2.4" fill="none"/>
<path d="M560.2,1672.6 L575.4,1675.7" stroke="#fcfcfc" stroke-width="2.4" fill="none"/>
<path d="M529.1,1657.0 L585.4,1661.2" stroke="#000" stroke-width="2.4" fill="none"/>
<path d="M520.3,1672.8 L572.9,1683.7" stroke="#000" stroke-width="2.4" fill="none"/>
<path class="k" d="M502.1,1679.2 L537.7,1707.0 L507.3,1715.6 L478.0,1686.0 Z"/>
<path d="M505.1,1686.2 L488.4,1690.9" stroke="#fcfcfc" stroke-width="2.2" fill="none"/>
<path d="M511.1,1690.2 L492.2,1695.6" stroke="#fcfcfc" stroke-width="2.2" fill="none"/>
<path d="M517.2,1694.2 L496.0,1700.2" stroke="#fcfcfc" stroke-width="2.2" fill="none"/>
<path d="M516.5,1700.6 L526.3,1707.2" stroke="#fcfcfc" stroke-width="2.4" fill="none"/>
<path d="M507.2,1703.2 L513.5,1710.8" stroke="#fcfcfc" stroke-width="2.4" fill="none"/>
<path d="M507.3,1681.1 L541.1,1704.0" stroke="#000" stroke-width="2.4" fill="none"/>
<path d="M478.6,1689.2 L500.5,1715.5" stroke="#000" stroke-width="2.4" fill="none"/>
<path class="k" d="M456.7,1687.4 L442.6,1719.6 L409.0,1714.9 L430.1,1683.7 Z"/>
<path d="M449.0,1693.3 L430.5,1690.7" stroke="#fcfcfc" stroke-width="2.2" fill="none"/>
<path d="M447.6,1698.3 L426.6,1695.4" stroke="#fcfcfc" stroke-width="2.2" fill="none"/>
<path d="M446.2,1703.3 L422.7,1700.0" stroke="#fcfcfc" stroke-width="2.2" fill="none"/>
<path d="M436.6,1707.5 L434.3,1715.7" stroke="#fcfcfc" stroke-width="2.4" fill="none"/>
<path d="M426.5,1706.1 L420.1,1713.7" stroke="#fcfcfc" stroke-width="2.4" fill="none"/>
<path d="M457.7,1690.5 L449.2,1718.7" stroke="#000" stroke-width="2.4" fill="none"/>
<path d="M425.9,1686.1 L404.3,1712.4" stroke="#000" stroke-width="2.4" fill="none"/>
<path class="k" d="M413.1,1677.0 L357.6,1694.8 L340.4,1679.7 L399.5,1665.0 Z"/>
<path d="M399.3,1678.5 L389.8,1670.2" stroke="#fcfcfc" stroke-width="2.2" fill="none"/>
<path d="M391.2,1681.6 L380.5,1672.1" stroke="#fcfcfc" stroke-width="2.2" fill="none"/>
<path d="M383.1,1684.6 L371.1,1674.0" stroke="#fcfcfc" stroke-width="2.2" fill="none"/>
<path d="M370.4,1684.2 L357.2,1689.1" stroke="#fcfcfc" stroke-width="2.4" fill="none"/>
<path d="M365.2,1679.6 L350.0,1682.7" stroke="#fcfcfc" stroke-width="2.4" fill="none"/>
<path d="M409.3,1679.6 L363.5,1696.5" stroke="#000" stroke-width="2.4" fill="none"/>
<path d="M393.1,1665.3 L340.6,1676.2" stroke="#000" stroke-width="2.4" fill="none"/>
<path class="k" d="M396.9,1654.3 L332.4,1647.3 L341.8,1630.5 L404.3,1641.0 Z"/>
<path d="M385.0,1650.5 L390.1,1641.2" stroke="#fcfcfc" stroke-width="2.2" fill="none"/>
<path d="M375.0,1649.8 L380.8,1639.3" stroke="#fcfcfc" stroke-width="2.2" fill="none"/>
<path d="M365.0,1649.1 L371.5,1637.3" stroke="#fcfcfc" stroke-width="2.2" fill="none"/>
<path d="M356.5,1644.3 L340.3,1643.1" stroke="#fcfcfc" stroke-width="2.4" fill="none"/>
<path d="M359.4,1639.2 L344.2,1636.1" stroke="#fcfcfc" stroke-width="2.4" fill="none"/>
<path d="M390.5,1654.8 L334.2,1650.6" stroke="#000" stroke-width="2.4" fill="none"/>
<path d="M399.3,1639.0 L346.7,1628.1" stroke="#000" stroke-width="2.4" fill="none"/>
<path class="k" d="M417.5,1632.6 L381.9,1604.8 L412.3,1596.2 L441.6,1625.8 Z"/>
<path d="M414.5,1625.6 L431.2,1620.9" stroke="#fcfcfc" stroke-width="2.2" fill="none"/>
<path d="M408.5,1621.6 L427.4,1616.2" stroke="#fcfcfc" stroke-width="2.2" fill="none"/>
<path d="M402.4,1617.6 L423.6,1611.6" stroke="#fcfcfc" stroke-width="2.2" fill="none"/>
<path d="M403.1,1611.2 L393.3,1604.6" stroke="#fcfcfc" stroke-width="2.4" fill="none"/>
<path d="M412.4,1608.6 L406.1,1601.0" stroke="#fcfcfc" stroke-width="2.4" fill="none"/>
<path d="M412.3,1630.7 L378.5,1607.8" stroke="#000" stroke-width="2.4" fill="none"/>
<path d="M441.0,1622.6 L419.1,1596.3" stroke="#000" stroke-width="2.4" fill="none"/>
<ellipse class="k" cx="447.5" cy="1606.8" rx="19.5" ry="10.6"/>
<path d="M442.0,1607.8 h3.4 m2.4,0 h3.6 m2,0 h2" stroke="#fcfcfc" stroke-width="2.6" fill="none"/>
<ellipse cx="451.2" cy="1620.9" rx="9" ry="4" fill="none" stroke="#000" stroke-width="2.6"/>
<ellipse class="k" cx="522.0" cy="1616.9" rx="19.5" ry="10.6"/>
<path d="M516.5,1617.9 h3.4 m2.4,0 h3.6 m2,0 h2" stroke="#fcfcfc" stroke-width="2.6" fill="none"/>
<ellipse cx="503.2" cy="1628.1" rx="9" ry="4" fill="none" stroke="#000" stroke-width="2.6"/>
<ellipse class="k" cx="560.0" cy="1649.9" rx="19.5" ry="10.6"/>
<path d="M554.5,1650.9 h3.4 m2.4,0 h3.6 m2,0 h2" stroke="#fcfcfc" stroke-width="2.6" fill="none"/>
<ellipse cx="529.8" cy="1651.6" rx="9" ry="4" fill="none" stroke="#000" stroke-width="2.6"/>
<ellipse class="k" cx="539.4" cy="1686.4" rx="19.5" ry="10.6"/>
<path d="M533.9,1687.4 h3.4 m2.4,0 h3.6 m2,0 h2" stroke="#fcfcfc" stroke-width="2.6" fill="none"/>
<ellipse cx="515.4" cy="1677.6" rx="9" ry="4" fill="none" stroke="#000" stroke-width="2.6"/>
<ellipse class="k" cx="472.1" cy="1705.0" rx="19.5" ry="10.6"/>
<path d="M466.6,1706.0 h3.4 m2.4,0 h3.6 m2,0 h2" stroke="#fcfcfc" stroke-width="2.6" fill="none"/>
<ellipse cx="468.4" cy="1690.9" rx="9" ry="4" fill="none" stroke="#000" stroke-width="2.6"/>
<ellipse class="k" cx="397.6" cy="1694.9" rx="19.5" ry="10.6"/>
<path d="M392.1,1695.9 h3.4 m2.4,0 h3.6 m2,0 h2" stroke="#fcfcfc" stroke-width="2.6" fill="none"/>
<ellipse cx="416.4" cy="1683.7" rx="9" ry="4" fill="none" stroke="#000" stroke-width="2.6"/>
<ellipse class="k" cx="359.6" cy="1661.9" rx="19.5" ry="10.6"/>
<path d="M354.1,1662.9 h3.4 m2.4,0 h3.6 m2,0 h2" stroke="#fcfcfc" stroke-width="2.6" fill="none"/>
<ellipse cx="389.8" cy="1660.2" rx="9" ry="4" fill="none" stroke="#000" stroke-width="2.6"/>
<ellipse class="k" cx="380.2" cy="1625.4" rx="19.5" ry="10.6"/>
<path d="M374.7,1626.4 h3.4 m2.4,0 h3.6 m2,0 h2" stroke="#fcfcfc" stroke-width="2.6" fill="none"/>
<ellipse cx="404.2" cy="1634.2" rx="9" ry="4" fill="none" stroke="#000" stroke-width="2.6"/>
</g>
<ellipse cx="459.0" cy="1646.0" rx="64.5" ry="31.0" fill="#fcfcfc" stroke="#000" stroke-width="2.6"/>
<ellipse cx="462.0" cy="1645.0" rx="57.0" ry="29.0" fill="#000" stroke="none" stroke-width="0"/>
<ellipse cx="459.5" cy="1637.5" rx="36.6" ry="16.9" fill="#fcfcfc" stroke="none" stroke-width="0"/>
<path d="M428,1642 C434,1628 470,1622 490,1630 M433,1648 C448,1640 465,1635 476,1640 C486,1644 491,1638 493,1634 M438,1652 C452,1654 472,1653 486,1646" fill="none" stroke="#000" stroke-width="3.4"/>
<ellipse cx="457.5" cy="1644.0" rx="13.0" ry="6.0" fill="#000" stroke="none" stroke-width="0"/>
<path d="M452.5,1644 h3.4 m3,0 h3.4" stroke="#fcfcfc" stroke-width="1.4"/>
<path d="M405,1650 C410,1668 440,1679 470,1678" fill="none" stroke="#fcfcfc" stroke-width="1.6"/>
<path d="M478,1620 l3,6 m8,-4 l2,6" stroke="#fcfcfc" stroke-width="1.6" fill="none"/>
<path class="k" d="M9.2,1547 Q9.2,1544.2 12,1544.2 H18.3 V1541 Q20,1537 26,1537 V1529 Q26,1525.4 30,1525.4 H50 Q60,1525.4 68.5,1528.5 Q77,1525.4 86,1525.4 H108 Q111.8,1525.4 111.8,1529 V1537 Q118,1537 120.5,1541 V1544.2 H127 Q129.7,1544.2 129.7,1547 V1607 Q129.7,1609.3 127,1609.3 H12 Q9.2,1609.3 9.2,1607 Z"/>
<path class="w" d="M32.8,1532.2 H54 Q60,1532.5 66,1535 V1589 Q60,1586.3 54,1586.2 Q44,1585.5 32.8,1587.1 Z M71.8,1535 Q78,1532.5 84,1532.2 H106 V1587.1 Q96,1585.5 84,1586.2 Q78,1586.3 71.8,1589 Z"/>
<rect class="w" x="14.9" y="1550" width="2.9" height="53.5"/><rect class="w" x="121" y="1550" width="2" height="53.5"/>
<path d="M25,1544 V1597.5 Q34,1594.5 44,1594.5 Q58,1594.5 69,1598 Q80,1594.5 92,1594 Q104,1594 112.8,1597.5 V1543" fill="none" stroke="#fcfcfc" stroke-width="1.9"/>
<path d="M28,1603 Q38,1600.3 46,1600.5 Q56,1600.8 64,1603 Z M74,1603 Q84,1600.3 92,1600.5 Q102,1600.8 110,1603 Z" fill="#fcfcfc"/>
<path d="M442,1876 A21,19 0 0 0 484,1876" fill="#fcfcfc" stroke="#000" stroke-width="4.2"/>
<path d="M446.5,1880.5 A17,9 0 0 0 480,1880.5" fill="none" stroke="#000" stroke-width="3"/>
<rect class="k" x="457.5" y="1890.5" width="11" height="4"/>
<path d="M440,1868 Q463,1894 486,1868" fill="#fcfcfc" stroke="#000" stroke-width="3.4"/>
<ellipse cx="463.0" cy="1866.0" rx="23.0" ry="11.0" fill="#fcfcfc" stroke="#000" stroke-width="4"/>
<ellipse cx="463.5" cy="1866.3" rx="13.6" ry="7.4" fill="#000" stroke="none" stroke-width="0"/>
<path d="M451.6,1830 V1862 Q463,1869.5 474.7,1862 V1830" fill="#fcfcfc" stroke="#000" stroke-width="3"/>
<path class="k" d="M450.1,1830 A13.05,6.4 0 0 1 476.2,1830 V1836.4 Q463,1842 450.1,1836.4 Z"/>
<ellipse cx="462.9" cy="1830.0" rx="7.2" ry="3.2" fill="#fcfcfc" stroke="none" stroke-width="0"/>
<path d="M458,1868.5 h10 M454,1866 l1.5,1 M470,1867 l2,-0.5" stroke="#fcfcfc" stroke-width="1" fill="none"/>
</g>
<g id="p30_36">
<!-- 30 pin -->
<ellipse class="k" cx="1350" cy="247.2" rx="10.2" ry="7.6"/>
<rect x="1345.6" y="234" width="8.8" height="8.5" fill="#fcfcfc" stroke="#000" stroke-width="2.6"/>
<path d="M1341.4,200 V231 Q1342,235 1346,235.5 H1354 Q1358,235 1358.6,231 V200 Z" fill="#fcfcfc" stroke="#000" stroke-width="3"/>
<path class="k" d="M1339.8,186 Q1339.8,175.8 1350,175.8 Q1360.2,175.8 1360.2,186 V201.8 H1339.8 Z"/>
<ellipse class="w" cx="1350" cy="184" rx="6" ry="4"/>
<path class="w" d="M1343.9,190 Q1350,194 1356.1,190 V196 Q1350,198.5 1343.9,196 Z"/>
<!-- 31 -->
<ellipse class="k" cx="1350.3" cy="275.3" rx="14.5" ry="10.7"/>
<!-- 33 bushing -->
<path d="M1337.5,303 V321 A12.8,7 0 0 0 1363,321 V303" fill="#fcfcfc" stroke="#000" stroke-width="3.4"/>
<path class="k" d="M1335.7,303 A14.5,8.3 0 0 1 1364.8,303 V307 Q1350,316.5 1335.7,307 Z"/>
<ellipse class="w" cx="1350.2" cy="302.9" rx="6.6" ry="3"/>
<!-- 36 valve seat -->
<path class="k" d="M1314,357 A36.4,17.8 0 0 1 1386.7,357 V371 C1384,380 1375,384 1372,386 C1370,392 1366,398 1363,400 V417 C1362,422 1357,424 1354,424.5 V430 L1349,430.7 C1340,429 1334,425 1332,418 V395 L1328,384 C1320,381 1316,376 1314,371 Z"/>
<ellipse class="w" cx="1350.4" cy="360.2" rx="10.5" ry="3.3"/>
<path class="w" d="M1325.9,351 L1334,347.8 L1334.5,350.5 L1327.5,353.5 Z M1337.7,346.2 h4.3 v3.2 h-4.3 Z M1353.9,345.6 h4.3 v3.3 h-4.3 Z M1363.6,346.7 L1374.3,350.5 L1373,352 L1364,349.5 Z M1370,358.5 h4.3 v3.8 h-4.3 Z M1326.4,360.2 l4.8,0.5 v2.4 l-3.5,-0.5 Z"/>
<path class="w" d="M1317.8,359 Q1322,366 1330,368.5 V371.5 Q1321,370 1317.8,363 Z M1317.8,369 Q1322,376.5 1329,379.5 V382 Q1320,380 1317.8,373 Z M1374.3,367.7 Q1381,363 1383.2,359 V363.5 Q1380,369 1374.3,372 Z M1375.4,374.2 Q1381,371 1383.2,368 V372 Q1380,377 1376,379 Z"/>
<path d="M1333,371 Q1346,378 1349,393 M1337,370 Q1351,376 1353,396 V410 M1360,388 Q1361.5,378 1369,372.5 M1356,381 Q1357,374 1361,371 M1349,375 l2,8 M1333,377 Q1342,382 1345,392" fill="none" stroke="#fcfcfc" stroke-width="1.1"/>
<path class="w" d="M1335.4,396 L1344,399.5 L1345.5,416 L1343,418.5 L1336,415.5 L1338,413 L1341,413.5 L1341,401 L1335.4,398 Z M1335.2,418 Q1340,421 1349.5,422.6 V427.5 Q1341,426.5 1336.6,422.6 Z"/>
<path d="M1336,400 l4,3" stroke="#fcfcfc" stroke-width="1"/>
<!-- 34 seal -->
<path d="M1321.7,453.3 V457.5 A28.7,15 0 0 0 1379.1,457.5 V453.3" fill="#fcfcfc" stroke="#000" stroke-width="3.6"/>
<ellipse cx="1350.4" cy="453.3" rx="28.7" ry="14.6" fill="#fcfcfc" stroke="#000" stroke-width="3.4"/>
<ellipse class="k" cx="1350.4" cy="453.4" rx="22" ry="11.4"/>
<ellipse class="w" cx="1350.9" cy="455.8" rx="18" ry="6.2"/>
<path d="M1335,449 Q1350,443.5 1367,449" fill="none" stroke="#fcfcfc" stroke-width="1.1"/>
<!-- 35 o-ring -->
<ellipse cx="1350.8" cy="498.6" rx="19.1" ry="9.7" fill="none" stroke="#000" stroke-width="7.2"/>
<ellipse cx="1350.8" cy="498.6" rx="19.6" ry="10.2" fill="none" stroke="#fcfcfc" stroke-width="0.8"/>
</g>
<g id="cover">
<path class="pw" style="stroke-width:3.68;" d="M1849.0,521.3 L1849.0,553.9 L1851.5,556.4 L1857.0,556.4 L1858.8,553.9 L1858.8,521.3"/>
<ellipse class="k" cx="1853.8" cy="515.3" rx="12.2" ry="8.3"/>
<path class="p" style="stroke:#fcfcfc;stroke-width:1.15;" d="M1846.6,515.0 C1847.6,514.8 1850.7,513.6 1852.9,513.6 C1855.1,513.6 1858.7,515.0 1859.8,515.3"/>
<path class="pw" style="stroke-width:3.45;" d="M1795.9,574.8 C1799.4,569.9 1820.2,568.0 1830.6,565.0 C1841.0,562.0 1852.2,558.7 1858.4,557.0 C1864.6,555.3 1864.8,555.0 1867.5,554.7 C1870.2,554.4 1872.1,554.6 1874.4,555.3 C1876.7,556.0 1878.9,557.2 1881.3,558.8 C1883.7,560.4 1885.9,562.1 1889.0,565.0 C1892.1,567.9 1896.4,571.5 1900.1,576.1 C1903.8,580.7 1907.7,586.3 1911.2,592.8 C1914.7,599.3 1918.4,608.1 1920.9,615.1 C1923.5,622.1 1925.7,630.5 1926.5,634.5 C1927.3,638.5 1928.6,637.5 1925.8,639.4 C1923.0,641.2 1912.2,644.1 1909.8,645.6 C1907.4,647.1 1925.5,643.9 1911.2,648.4 C1896.9,652.9 1838.8,669.0 1823.7,672.7 C1808.7,676.4 1821.5,675.8 1820.9,670.6 C1820.3,665.4 1820.9,650.8 1820.2,641.5 C1819.5,632.2 1818.4,623.0 1816.7,615.1 C1815.0,607.2 1813.3,600.9 1809.8,594.2 C1806.3,587.5 1792.4,579.7 1795.9,574.8 Z"/>
<path class="p" style="stroke-width:3.22;" d="M1802.8,577.5 C1805.1,578.7 1812.3,581.2 1816.7,584.5 C1821.1,587.8 1826.0,592.4 1829.2,597.0 C1832.5,601.6 1834.2,605.8 1836.2,612.3 C1838.2,618.8 1840.2,628.3 1841.1,635.9 C1842.0,643.5 1841.6,654.4 1841.7,658.1"/>
<path class="p" style="stroke-width:3.22;" d="M1800.1,580.3 C1802.4,581.5 1809.8,584.0 1814.0,587.3 C1818.2,590.5 1822.1,595.2 1825.1,599.8 C1828.1,604.4 1830.2,609.1 1832.0,615.1 C1833.8,621.1 1835.3,628.4 1836.2,635.9 C1837.1,643.4 1837.4,656.2 1837.6,660.2"/>
<path class="p" style="stroke-width:2.99;" d="M1830.6,661.6 L1922.3,635.9"/>
<path class="p" style="stroke-width:5.75;" d="M1823.7,672.3 L1911.2,648.1"/>
<path class="p" style="stroke-width:3.22;" d="M1833.4,609.8 L1904.3,588.9"/>
<path class="p" style="stroke-width:2.76;" d="M1802.8,577.8 L1868.1,558.4"/>
<path class="p" style="stroke-width:5.75;" d="M1820.2,641.5 L1820.9,670.6"/>
<ellipse class="k" cx="1854.0" cy="575.5" rx="14.8" ry="8.4"/>
<ellipse class="w" cx="1854.0" cy="575.9" rx="9.6" ry="4"/>
<path class="p" style="stroke-width:1.84;" d="M1845.9,575.5 C1847.1,575.1 1850.1,573.5 1852.9,573.4 C1855.7,573.3 1861.0,574.7 1862.6,575.0"/>
<path class="p" style="stroke-width:8.4;" d="M1795.9,575.5 C1798.2,577.5 1806.1,583.0 1809.8,587.3 C1813.5,591.6 1816.1,596.5 1818.1,601.2 C1820.1,605.9 1821.0,613.3 1821.6,615.7"/>
<path class="p" style="stroke-width:3.45;" d="M1783.4,581.7 C1785.2,582.4 1791.5,584.3 1794.5,585.9 C1797.5,587.5 1800.3,590.5 1801.5,591.4"/>
<path class="k" style="stroke-width:0;" d="M1683.3,590.0 L1709.7,580.3 L1770.9,573.4 L1795.9,575.0 L1794.5,579.6 L1770.9,578.9 L1709.7,585.9 L1690.3,595.6 L1683.3,595.6 Z"/>
<path class="p" style="stroke-width:5.75;" d="M1683.3,590.0 L1683.3,622.0"/>
<path class="p" style="stroke-width:3.45;" d="M1690.3,595.6 L1690.3,620.6"/>
<path class="p" style="stroke-width:3.91;" d="M1683.3,595.6 L1668.1,609.5 L1660.4,617.1 L1670.8,626.9 L1683.3,622.0"/>
<path class="k" style="stroke-width:0;" d="M1665.3,617.8 L1672.2,612.3 L1677.8,615.1 L1675.0,623.4 L1670.8,625.5 Z"/>
<path class="p" style="stroke-width:2.99;" d="M1677.8,599.8 L1677.8,615.1"/>
<path class="p" style="stroke-width:2.99;" d="M1683.3,615.1 L1676.4,622.0"/>
<path class="p" style="stroke-width:3.91;" d="M1690.3,605.3 L1765.3,585.9"/>
<path class="p" style="stroke-width:2.76;" d="M1690.3,596.3 L1765.3,580.3"/>
<path class="p" style="stroke-width:4.6;" d="M1736.1,597.0 L1768.1,624.8"/>
<path class="p" style="stroke-width:3.45;" d="M1745.9,599.8 L1775.1,626.2"/>
<path class="p" style="stroke-width:3.45;" d="M1765.3,599.8 L1788.9,619.2"/>
<path class="p" style="stroke-width:5.06;" d="M1705.6,603.9 L1719.5,617.8"/>
<path class="p" style="stroke-width:3.45;" d="M1700.0,606.7 L1715.3,619.2"/>
<path class="p" style="stroke-width:5.17;" d="M1765.3,580.3 L1779.2,580.3 L1780.6,592.8"/>
<path class="p" style="stroke-width:4.6;" d="M1785.5,584.5 L1785.5,592.8"/>
<path class="p" style="stroke-width:3.45;" d="M1786.2,583.1 L1798.7,590.0"/>
<path class="p" style="stroke-width:3.45;" d="M1738.9,595.6 L1775.1,587.3"/>
<path class="p" style="stroke-width:4.6;" d="M1744.5,601.2 L1775.1,592.8 L1801.5,597.0"/>
<path class="p" style="stroke-width:3.45;" d="M1768.1,603.9 L1802.8,595.6"/>
<path class="p" style="stroke-width:3.91;" d="M1765.3,615.1 L1807.0,602.5 L1811.2,615.1"/>
<path class="p" style="stroke-width:3.45;" d="M1768.1,617.8 L1790.3,612.3"/>
<path class="p" style="stroke-width:6.3;" d="M1775.1,585.9 L1780.6,587.3"/>
<path class="p" style="stroke-width:3.91;" d="M1691.7,610.9 C1694.9,611.8 1707.9,613.8 1711.1,616.4 C1714.3,619.0 1710.4,623.9 1711.1,626.2 C1711.8,628.5 1711.6,629.8 1715.3,630.3 C1719.0,630.8 1729.5,630.0 1733.4,628.9 C1737.3,627.8 1738.5,625.2 1738.9,623.4 C1739.4,621.5 1738.9,619.0 1736.1,617.8 C1733.3,616.6 1725.1,616.2 1722.3,616.4 C1719.5,616.6 1720.0,617.3 1719.5,619.2 C1719.0,621.1 1719.5,626.2 1719.5,627.6"/>
<path class="p" style="stroke-width:3.91;" d="M1683.3,622.0 L1715.3,630.3"/>
<path class="p" style="stroke-width:2.76;" d="M1691.7,615.1 L1709.7,620.6"/>
<path class="p" style="stroke-width:5.29;" d="M1726.4,630.3 L1726.4,655.3 L1730.6,658.1 L1775.1,645.6"/>
<path class="p" style="stroke-width:5.75;" d="M1736.1,631.7 L1822.3,618.5"/>
<path class="p" style="stroke-width:3.45;" d="M1733.4,634.5 L1775.1,627.6"/>
<path class="p" style="stroke-width:3.45;" d="M1731.3,633.1 L1731.3,654.0"/>
<path class="p" style="stroke-width:3.45;" d="M1738.9,637.3 L1738.9,649.8"/>
<path class="p" style="stroke-width:3.45;" d="M1738.9,652.6 L1772.3,642.8"/>
<path class="p" style="stroke-width:3.45;" d="M1744.5,647.0 C1745.4,646.1 1747.2,642.8 1750.0,641.5 C1752.8,640.2 1757.5,639.4 1761.2,639.4 C1764.9,639.4 1770.5,641.1 1772.3,641.5"/>
<path class="p" style="stroke-width:5.06;" d="M1775.1,630.3 C1775.8,632.4 1779.2,638.8 1779.2,642.8 C1779.2,646.8 1778.1,649.8 1775.1,654.0 C1772.1,658.2 1761.9,664.1 1761.2,667.9 C1760.5,671.7 1767.2,677.1 1770.9,676.9 C1774.6,676.7 1781.3,669.4 1783.4,666.5 C1785.5,663.6 1777.9,663.9 1783.4,659.5 C1789.0,655.1 1810.6,643.1 1816.7,640.1 C1822.8,637.1 1819.6,641.3 1820.2,641.5"/>
<path class="p" style="stroke-width:3.45;" d="M1772.3,631.7 C1772.8,633.6 1775.1,639.3 1775.1,642.8 C1775.1,646.3 1772.8,651.0 1772.3,652.6"/>
<path class="p" style="stroke-width:3.91;" d="M1780.6,649.8 L1816.7,630.3 L1822.3,631.7"/>
<path class="p" style="stroke-width:4.6;" d="M1765.3,670.6 L1775.1,660.9"/>
<path class="p" style="stroke-width:2.76;" d="M1769.5,673.4 L1779.2,663.7"/>
<path class="p" style="stroke-width:4.6;" d="M1807.0,634.5 L1809.8,637.3"/>
</g>
<g id="motor">
<ellipse cx="1838.2" cy="781.8" rx="12.1" ry="25.2" transform="rotate(-15 1838.2 781.8)" fill="none" stroke="#000" stroke-width="5.2"/>
<ellipse cx="1838.2" cy="781.8" rx="11.7" ry="24.8" transform="rotate(-15 1838.2 781.8)" fill="none" stroke="#fcfcfc" stroke-width="0.9"/>
<ellipse cx="1821.9" cy="817.8" rx="12.1" ry="25.2" transform="rotate(-15 1821.9 817.8)" fill="none" stroke="#000" stroke-width="5.2"/>
<ellipse cx="1821.9" cy="817.8" rx="11.7" ry="24.8" transform="rotate(-15 1821.9 817.8)" fill="none" stroke="#fcfcfc" stroke-width="0.9"/>
<path class="pw" style="stroke-width:3.66;" d="M1946.7,708.2 C1947.9,702.1 1954.0,703.5 1958.5,703.0 C1963.0,702.5 1968.9,704.4 1973.4,705.3 C1977.9,706.2 1976.9,709.2 1985.3,708.2 C1993.7,707.2 2015.5,700.5 2023.9,699.3 C2032.3,698.1 2031.8,698.6 2035.8,700.8 C2039.8,703.0 2044.7,710.2 2047.7,712.7 C2050.7,715.2 2050.6,715.6 2053.6,715.7 C2056.6,715.8 2061.8,712.2 2065.5,713.4 C2069.2,714.6 2073.2,718.3 2075.9,723.1 C2078.6,727.9 2080.1,738.7 2081.8,742.4 C2083.5,746.1 2085.8,743.4 2086.3,745.4 C2086.8,747.4 2085.6,751.1 2084.8,754.3 C2084.1,757.5 2084.5,762.2 2081.8,764.7 C2079.1,767.2 2071.2,767.9 2068.5,769.1 C2065.8,770.3 2067.0,768.6 2065.5,772.1 C2064.0,775.6 2062.1,785.5 2059.6,789.9 C2057.1,794.3 2056.0,796.1 2050.6,798.8 C2045.1,801.5 2032.6,804.3 2026.9,806.3 C2021.2,808.3 2019.7,808.7 2016.5,810.7 C2013.3,812.7 2014.3,815.9 2007.6,818.1 C2000.9,820.3 1984.6,829.8 1976.4,824.1 C1968.2,818.4 1962.7,798.1 1958.5,784.0 C1954.3,769.9 1953.1,752.0 1951.1,739.4 C1949.1,726.8 1945.5,714.3 1946.7,708.2 Z"/>
<path class="k" style="stroke-width:0;" d="M2077.4,723.4 L2092.2,719.4 L2101.1,723.1 L2108.6,729.0 L2101.1,745.4 L2090.7,747.6 L2084.8,745.4 L2081.8,736.4 Z"/>
<path class="p" style="stroke-width:3.17;" d="M1986.8,708.2 C1989.3,710.9 1996.9,716.9 2001.6,724.6 C2006.3,732.3 2012.3,744.4 2015.0,754.3 C2017.7,764.2 2018.2,775.1 2018.0,784.0 C2017.8,792.9 2014.2,803.8 2013.5,807.7"/>
<path class="p" style="stroke-width:3.17;" d="M2001.6,708.2 C2004.8,712.2 2016.0,723.1 2020.9,732.0 C2025.9,740.9 2029.3,751.8 2031.3,761.7 C2033.3,771.6 2033.5,784.0 2032.8,791.4 C2032.1,798.8 2027.9,803.8 2026.9,806.3"/>
<path class="p" style="stroke-width:3.66;" d="M2041.7,705.3 C2044.7,709.8 2055.6,722.6 2059.6,732.0 C2063.6,741.4 2064.8,753.0 2065.5,761.7 C2066.2,770.4 2065.0,779.3 2064.0,784.0 C2063.0,788.7 2060.3,788.9 2059.6,789.9"/>
<path class="p" style="stroke-width:2.68;" d="M2022.4,700.1 C2025.9,704.2 2038.0,715.6 2043.2,724.6 C2048.4,733.6 2051.6,744.4 2053.6,754.3 C2055.6,764.2 2055.6,776.6 2055.1,784.0 C2054.6,791.4 2051.3,796.3 2050.6,798.8"/>
<path class="p" style="stroke-width:5.61;" d="M1973.4,709.7 C1976.6,712.9 1987.8,721.1 1992.7,729.0 C1997.7,736.9 2000.6,748.0 2003.1,757.2 C2005.6,766.4 2006.8,776.6 2007.6,784.0 C2008.3,791.4 2008.6,796.3 2007.6,801.8 C2006.6,807.2 2002.6,814.2 2001.6,816.7"/>
<path class="p" style="stroke-width:2.93;" d="M1985.3,709.7 C1988.3,714.2 1998.9,726.5 2003.1,736.4 C2007.3,746.3 2009.0,759.2 2010.5,769.1 C2012.0,779.0 2011.8,791.4 2012.0,795.9"/>
<path class="p" style="stroke-width:3.66;" d="M2053.6,717.1 C2056.1,720.8 2065.5,732.7 2068.5,739.4 C2071.5,746.1 2071.4,752.5 2071.4,757.2 C2071.4,761.9 2069.0,765.9 2068.5,767.6"/>
<path class="p" style="stroke-width:3.17;" d="M2077.4,724.6 C2078.6,727.1 2083.5,735.2 2084.8,739.4 C2086.2,743.6 2085.4,748.1 2085.5,749.8"/>
<path class="p" style="stroke-width:3.66;" d="M1973.4,740.9 L1995.7,730.5 L1997.9,734.2 L1977.9,743.1 Z"/>
<path class="p" style="stroke-width:4.15;" d="M1973.4,740.9 C1975.4,743.6 1981.8,751.0 1985.3,757.2 C1988.8,763.4 1992.0,771.1 1994.2,778.0 C1996.4,784.9 1998.1,792.8 1998.7,798.8 C1999.3,804.8 1998.0,811.2 1997.9,813.7"/>
<path class="p" style="stroke-width:2.93;" d="M1979.3,743.9 C1981.3,747.1 1988.0,756.5 1991.2,763.2 C1994.4,769.9 1997.0,777.6 1998.7,784.0 C2000.4,790.4 2001.1,798.8 2001.6,801.8"/>
<path class="p" style="stroke-width:3.66;" d="M1985.3,760.2 L1992.7,761.7"/>
<path class="p" style="stroke-width:3.66;" d="M1992.7,769.1 L1998.7,767.6"/>
<path class="p" style="stroke-width:3.66;" d="M1976.4,824.1 L1977.9,828.5 L1985.3,834.5 L1986.0,827.1"/>
<path class="p" style="stroke-width:3.66;" d="M1997.2,792.9 L2001.6,794.4"/>
<path class="p" style="stroke-width:4.15;" d="M1967.5,775.1 L1976.4,773.6 L1977.9,801.8 L1970.4,803.3 Z"/>
<path class="p" style="stroke-width:3.66;" d="M1967.5,787.0 L1977.1,785.5"/>
<path class="k" style="stroke-width:0;" d="M1964.5,749.8 L1973.4,757.2 L1973.4,769.1 L1967.5,767.6 Z"/>
<path class="pw" style="stroke-width:4.15;" d="M1902.1,700.8 C1905.3,697.4 1909.5,695.2 1914.0,694.1 C1918.5,693.0 1923.8,692.5 1928.8,694.1 C1933.8,695.7 1939.2,699.7 1943.7,703.8 C1948.2,707.9 1952.1,712.2 1955.6,718.6 C1959.1,725.0 1962.0,734.0 1964.5,742.4 C1967.0,750.8 1968.9,759.7 1970.4,769.1 C1971.9,778.5 1972.9,788.9 1973.4,798.8 C1973.9,808.7 1974.6,820.6 1973.4,828.5 C1972.2,836.4 1968.5,840.2 1966.0,846.4 C1963.5,852.6 1962.2,859.3 1958.5,865.7 C1954.8,872.1 1949.6,878.8 1943.7,885.0 C1937.8,891.2 1931.8,896.9 1922.9,902.8 C1914.0,908.7 1895.9,916.4 1890.2,920.6 C1884.5,924.8 1890.9,926.6 1888.7,928.1 C1886.5,929.6 1879.8,930.1 1876.8,929.6 C1873.8,929.1 1872.1,928.1 1870.9,925.1 C1869.7,922.1 1872.1,916.4 1869.4,911.7 C1866.7,907.0 1860.3,900.4 1854.6,896.9 C1848.9,893.4 1840.5,892.9 1835.3,890.9 C1830.1,888.9 1825.1,889.5 1823.4,885.0 C1821.7,880.5 1818.5,871.1 1824.9,864.2 C1831.3,857.3 1852.8,849.4 1862.0,843.4 C1871.2,837.4 1875.1,834.0 1879.8,828.5 C1884.5,823.0 1887.5,816.9 1890.2,810.7 C1892.9,804.5 1895.0,798.3 1896.2,791.4 C1897.4,784.5 1898.0,777.8 1897.6,769.1 C1897.2,760.4 1894.4,748.5 1893.9,739.4 C1893.4,730.2 1893.3,720.6 1894.7,714.2 C1896.1,707.8 1898.9,704.1 1902.1,700.8 Z"/>
<path class="p" style="stroke-width:8.25;" d="M1902.8,702.3 C1901.8,704.5 1897.9,709.5 1896.9,715.7 C1895.9,721.9 1896.2,730.5 1896.9,739.4 C1897.6,748.3 1900.5,760.2 1900.9,769.1 C1901.3,778.0 1900.4,785.7 1899.1,792.9 C1897.8,800.1 1895.9,806.0 1893.2,812.2 C1890.5,818.4 1887.8,824.4 1882.8,830.0 C1877.8,835.6 1866.7,843.0 1863.5,845.6"/>
<path class="p" style="stroke-width:4.88;" d="M1914.0,694.9 C1916.5,694.9 1923.8,693.3 1928.8,694.9 C1933.8,696.5 1939.1,700.3 1943.7,704.5 C1948.3,708.7 1954.2,717.5 1956.3,720.1"/>
<path class="p" style="stroke-width:3.66;" d="M1956.3,720.1 C1957.7,723.8 1962.2,734.2 1964.5,742.4 C1966.8,750.6 1968.9,759.7 1970.4,769.1 C1971.9,778.5 1973.0,788.9 1973.4,798.8 C1973.8,808.7 1973.9,820.6 1972.7,828.5 C1971.5,836.4 1967.1,843.4 1966.0,846.4"/>
<path class="p" style="stroke-width:2.93;" d="M1948.1,714.2 C1949.8,718.4 1955.7,730.2 1958.5,739.4 C1961.3,748.5 1963.7,759.2 1965.2,769.1 C1966.7,779.0 1967.4,789.9 1967.5,798.8 C1967.6,807.7 1966.2,818.6 1966.0,822.6"/>
<path class="p" style="stroke-width:3.66;" d="M1905.1,699.3 L1906.6,724.6 L1914.0,726.0 L1917.0,699.3"/>
<path class="p" style="stroke-width:4.15;" d="M1920.7,698.6 L1921.4,717.1 L1940.7,723.1 L1948.1,714.2"/>
<path class="p" style="stroke-width:2.93;" d="M1928.8,697.8 C1930.8,699.5 1937.2,704.0 1940.7,708.2 C1944.2,712.4 1948.1,720.6 1949.6,723.1"/>
<path class="p" style="stroke-width:6.1;" d="M1899.1,715.7 L1905.1,724.6"/>
<path class="p" style="stroke-width:3.66;" d="M1908.0,703.8 L1912.5,721.6"/>
<path class="p" style="stroke-width:3.66;" d="M1899.1,729.0 L1905.1,727.5"/>
<path class="p" style="stroke-width:3.66;" d="M1899.1,739.4 L1905.1,737.9"/>
<path class="p" style="stroke-width:3.66;" d="M1899.1,749.8 L1905.1,748.3"/>
<path class="p" style="stroke-width:3.66;" d="M1899.1,763.2 L1905.1,761.7"/>
<path class="p" style="stroke-width:3.66;" d="M1899.1,776.6 L1905.1,775.1"/>
<path class="p" style="stroke-width:3.66;" d="M1899.1,789.9 L1905.1,788.4"/>
<path class="p" style="stroke-width:3.66;" d="M1899.1,803.3 L1905.1,801.8"/>
<path class="p" style="stroke-width:3.66;" d="M1905.1,727.5 L1919.9,729.0"/>
<path class="p" style="stroke-width:4.15;" d="M1919.9,733.5 C1918.2,734.7 1914.7,740.9 1914.0,746.8 C1913.3,752.7 1914.0,762.4 1915.5,769.1 C1917.0,775.8 1920.7,783.0 1922.9,787.0 C1925.1,791.0 1928.1,794.6 1928.8,792.9 C1929.5,791.2 1928.0,783.0 1927.3,776.6 C1926.6,770.2 1924.9,760.5 1924.4,754.3 C1923.9,748.1 1925.2,742.9 1924.4,739.4 C1923.7,735.9 1921.6,732.3 1919.9,733.5 Z"/>
<path class="k" style="stroke-width:0;" d="M1928.8,736.4 C1930.8,734.7 1934.7,740.4 1937.7,743.9 C1940.7,747.4 1943.7,752.0 1946.7,757.2 C1949.7,762.4 1953.4,768.7 1955.6,775.1 C1957.8,781.5 1959.8,790.0 1960.0,795.9 C1960.2,801.8 1959.8,808.2 1957.1,810.7 C1954.4,813.2 1947.7,812.7 1943.7,810.7 C1939.7,808.7 1936.0,804.5 1933.3,798.8 C1930.6,793.1 1928.5,784.0 1927.3,776.6 C1926.1,769.2 1925.7,761.0 1925.9,754.3 C1926.2,747.6 1926.8,738.1 1928.8,736.4 Z"/>
<path class="w" style="stroke-width:0;" d="M1933.3,763.2 C1933.5,759.2 1935.1,759.0 1936.3,760.2 C1937.5,761.4 1939.7,766.6 1940.7,770.6 C1941.7,774.6 1942.5,780.3 1942.2,784.0 C1942.0,787.7 1940.4,792.9 1939.2,792.9 C1938.0,792.9 1935.8,789.0 1934.8,784.0 C1933.8,779.0 1933.0,767.2 1933.3,763.2 Z"/>
<path class="w" style="stroke-width:0;" d="M1937.7,797.3 C1938.6,796.8 1942.6,796.8 1943.7,797.3 C1944.8,797.8 1945.3,799.8 1944.4,800.3 C1943.5,800.8 1939.6,801.1 1938.5,800.6 C1937.4,800.1 1936.8,797.8 1937.7,797.3 Z"/>
<path class="w" style="stroke-width:0;" d="M1931.8,749.8 C1932.0,748.6 1935.1,748.6 1936.3,749.8 C1937.5,751.0 1939.5,756.0 1939.2,757.2 C1939.0,758.4 1936.0,758.4 1934.8,757.2 C1933.6,756.0 1931.5,751.0 1931.8,749.8 Z"/>
<path class="p" style="stroke:#fcfcfc;stroke-width:1.46;" d="M1948.1,760.2 C1949.6,763.7 1955.4,774.6 1957.1,781.0 C1958.8,787.4 1958.3,795.8 1958.5,798.8"/>
<path class="p" style="stroke:#fcfcfc;stroke-width:1.46;" d="M1931.8,801.8 C1933.3,802.8 1937.2,806.7 1940.7,807.7 C1944.2,808.7 1950.6,807.7 1952.6,807.7"/>
<path class="p" style="stroke-width:5.37;" d="M1925.9,724.6 C1927.6,724.4 1933.3,722.4 1936.3,723.1 C1939.3,723.8 1941.2,725.8 1943.7,729.0 C1946.2,732.2 1948.6,739.7 1951.1,742.4 C1953.6,745.1 1957.3,744.9 1958.5,745.4"/>
<path class="p" style="stroke-width:4.15;" d="M1936.3,724.6 L1939.2,736.4 L1946.7,739.4 L1948.1,751.3"/>
<path class="p" style="stroke-width:3.66;" d="M1928.8,739.4 L1937.7,743.9"/>
<path class="p" style="stroke-width:3.66;" d="M1943.7,729.0 L1946.7,724.6 L1952.6,724.6"/>
<ellipse cx="1954.4" cy="752.0" rx="3.4" ry="5.4" transform="rotate(-15 1954.4 752.0)" fill="#fcfcfc" stroke="#000" stroke-width="2.6"/>
<path class="p" style="stroke-width:2.93;" d="M1952.6,761.7 C1953.8,764.2 1958.3,770.9 1960.0,776.6 C1961.7,782.3 1962.8,789.7 1963.0,795.9 C1963.2,802.1 1961.8,810.7 1961.5,813.7"/>
<path class="p" style="stroke-width:4.88;" d="M1958.5,760.2 C1959.8,761.7 1964.5,766.6 1966.0,769.1 C1967.5,771.6 1967.2,774.1 1967.5,775.1"/>
<path class="p" style="stroke-width:4.15;" d="M1902.1,792.9 C1902.6,795.4 1903.1,802.8 1905.1,807.7 C1907.1,812.7 1911.0,819.1 1914.0,822.6 C1917.0,826.1 1921.9,826.0 1922.9,828.5 C1923.9,831.0 1921.9,837.0 1919.9,837.5 C1917.9,838.0 1912.5,832.5 1911.0,831.5"/>
<path class="p" style="stroke-width:3.66;" d="M1914.0,798.8 C1915.0,800.0 1918.4,802.6 1919.9,806.3 C1921.4,810.0 1922.4,818.6 1922.9,821.1"/>
<path class="p" style="stroke-width:3.66;" d="M1893.2,812.2 C1894.7,811.7 1898.6,809.0 1902.1,809.2 C1905.6,809.5 1910.0,811.5 1914.0,813.7 C1918.0,815.9 1923.9,821.1 1925.9,822.6"/>
<ellipse cx="1911.3" cy="815.5" rx="3" ry="5" transform="rotate(-10 1911.3 815.5)" fill="#fcfcfc" stroke="#000" stroke-width="2.4"/>
<path class="p" style="stroke-width:4.15;" d="M1890.2,822.6 C1891.2,823.1 1893.7,825.6 1896.2,825.6 C1898.7,825.6 1903.6,823.1 1905.1,822.6"/>
<path class="p" style="stroke-width:3.17;" d="M1931.8,803.3 C1933.8,806.5 1939.2,818.4 1943.7,822.6 C1948.2,826.8 1956.0,827.5 1958.5,828.5"/>
<path class="p" style="stroke-width:3.66;" d="M1958.5,813.7 C1958.3,817.4 1958.1,829.1 1957.1,836.0 C1956.1,842.9 1954.8,849.1 1952.6,855.3 C1950.4,861.5 1945.2,870.1 1943.7,873.1"/>
<path class="p" style="stroke-width:4.15;" d="M1943.7,836.0 L1949.6,834.5 L1943.7,843.4 Z"/>
<path class="p" style="stroke-width:3.66;" d="M1976.4,828.5 L1985.3,827.1 L1983.8,834.5 L1977.9,834.5 Z"/>
<path class="p" style="stroke-width:3.66;" d="M1970.4,840.4 L1973.4,828.5"/>
<path class="k" style="stroke-width:0;" d="M1824.9,864.2 L1905.1,828.5 L1908.0,834.5 L1839.7,877.6 L1829.3,871.6 Z"/>
<path class="p" style="stroke-width:6.1;" d="M1823.4,864.9 L1823.4,885.0 L1835.3,890.9"/>
<path class="w" style="stroke-width:0;" d="M1827.8,868.7 L1830.1,868.7 L1830.1,877.6 L1827.8,877.6 Z"/>
<path class="p" style="stroke-width:5.37;" d="M1835.3,877.6 C1838.5,879.3 1848.4,883.8 1854.6,888.0 C1860.8,892.2 1868.5,898.8 1872.4,902.8 C1876.4,906.8 1877.3,910.2 1878.3,911.7"/>
<path class="p" style="stroke-width:2.44;" d="M1839.7,877.6 C1842.9,879.1 1853.0,882.8 1859.0,886.5 C1865.0,890.2 1871.7,896.1 1875.4,899.8 C1879.1,903.5 1880.3,907.3 1881.3,908.8"/>
<path class="p" style="stroke-width:7.7;" d="M1879.8,905.8 L1922.9,886.5 L1943.7,867.2 L1958.5,844.9"/>
<path class="p" style="stroke-width:5.37;" d="M1870.9,911.7 L1870.9,925.1 L1876.8,929.6 L1888.7,928.1 L1890.2,920.6 L1890.2,911.7"/>
<path class="p" style="stroke-width:3.66;" d="M1879.8,909.5 L1879.8,929.6"/>
<path class="p" style="stroke-width:3.66;" d="M1890.2,917.7 L1922.9,901.3"/>
<path class="p" style="stroke-width:3.17;" d="M1854.6,868.7 L1888.7,901.3"/>
<path class="p" style="stroke-width:3.17;" d="M1873.9,858.3 L1912.5,888.0"/>
<path class="p" style="stroke-width:3.17;" d="M1887.2,847.9 L1927.3,877.6"/>
<path class="p" style="stroke-width:3.17;" d="M1906.6,830.0 L1940.7,856.8"/>
<path class="p" style="stroke-width:3.17;" d="M1899.1,837.5 L1936.3,865.7"/>
<path class="p" style="stroke-width:4.15;" d="M1936.3,865.7 L1930.3,873.1 L1930.3,880.5"/>
<path class="p" style="stroke:#fcfcfc;stroke-width:0.98;" d="M1833.8,862.0 L1899.1,833.0" stroke-dasharray="3 3"/>
<path class="p" style="stroke:#fcfcfc;stroke-width:0.98;" d="M1884.3,906.5 L1922.9,888.7" stroke-dasharray="3 3"/>
</g>
<g id="valve">
<path class="pw" style="stroke-width:3.2;" d="M1413.7,811.2 L1413.7,844.9 L1416.2,848.0 L1425.0,848.0 L1427.5,844.9 L1427.5,811.2"/>
<path class="k" style="stroke-width:0;" d="M1412.8,821.2 L1428.4,821.2 L1428.4,825.2 L1412.8,825.2 Z"/>
<path class="k" d="M1409.1,798.7 C1409.4,796.6 1408.9,795.0 1410.9,794.0 C1412.9,793.0 1417.6,792.8 1420.9,792.8 C1424.2,792.8 1428.7,793.0 1430.6,794.0 C1432.5,795.0 1432.1,796.6 1432.4,798.7 C1432.7,800.8 1433.2,804.7 1432.4,806.8 C1431.6,808.9 1429.7,810.2 1427.8,811.2 C1425.9,812.2 1423.2,812.7 1420.9,812.7 C1418.6,812.7 1415.7,812.2 1413.7,811.2 C1411.7,810.2 1409.9,808.9 1409.1,806.8 C1408.3,804.7 1408.8,800.8 1409.1,798.7 Z"/>
<path class="p" style="stroke:#fcfcfc;stroke-width:1.5;" d="M1411.9,805.6 C1413.4,806.1 1418.0,808.9 1420.9,808.9 C1423.9,808.9 1428.1,806.1 1429.6,805.6"/>
<path class="w" style="stroke-width:0;" d="M1278.7,908.5 C1283.0,905.6 1281.1,906.2 1302.4,899.7 C1323.7,893.2 1388.9,868.4 1406.6,869.2 C1424.3,870.0 1413.1,888.4 1408.4,904.7 C1403.7,921.0 1384.5,954.6 1378.5,967.1 C1372.5,979.6 1373.3,976.7 1372.3,979.6 C1371.3,982.5 1377.3,982.5 1372.3,984.6 C1367.3,986.7 1349.8,991.6 1342.3,992.0 C1334.8,992.4 1331.8,990.2 1327.4,987.1 C1323.0,984.0 1318.4,978.3 1316.1,973.3 C1313.8,968.3 1316.5,960.2 1313.6,957.1 C1310.7,954.0 1302.0,955.6 1298.7,954.6 C1295.4,953.6 1295.8,952.1 1293.7,950.9 C1291.6,949.6 1288.7,949.6 1286.2,947.1 C1283.7,944.6 1280.3,940.9 1278.7,935.9 C1277.1,930.9 1276.8,921.8 1276.8,917.2 C1276.8,912.6 1274.4,911.4 1278.7,908.5 Z"/>
<ellipse cx="1287.2" cy="929.7" rx="10.4" ry="21" transform="rotate(-8 1287.2 929.7)" fill="#fcfcfc" stroke="#000" stroke-width="3.6"/>
<ellipse class="k" cx="1290.6" cy="930.3" rx="7" ry="16.4" transform="rotate(-8 1290.6 930.3)"/>
<ellipse class="w" cx="1287.7" cy="930.9" rx="4.2" ry="13.6" transform="rotate(-8 1287.7 930.9)"/>
<path class="p" style="stroke-width:3;" d="M1296.2,906.0 C1298.1,907.9 1304.6,912.6 1307.4,917.2 C1310.2,921.8 1312.0,929.5 1313.0,933.4 C1314.0,937.3 1313.5,939.6 1313.6,940.9"/>
<path class="p" style="stroke-width:2.4;" d="M1306.8,907.2 C1308.2,909.9 1313.2,919.0 1314.9,923.4 C1316.6,927.8 1316.5,931.7 1316.8,933.4"/>
<path class="k" style="stroke-width:0;" d="M1278.7,908.5 L1302.4,899.7 L1406.6,869.2 L1407.2,875.4 L1308.6,906.2 L1297.4,906.2 Z"/>
<path class="p" style="stroke-width:3;" d="M1299.9,937.2 L1319.9,930.9"/>
<path class="p" style="stroke-width:2.6;" d="M1298.7,954.6 L1299.9,937.2"/>
<path class="p" style="stroke-width:3.4;" d="M1301.2,947.1 L1312.4,943.4 L1313.6,954.6 L1302.4,957.1 Z"/>
<path class="w" style="stroke-width:0;" d="M1303.7,950.3 L1309.9,948.4 L1309.9,952.8 L1303.7,954.0 Z"/>
<ellipse cx="1350.1" cy="924.7" rx="27.4" ry="13.4" fill="#fcfcfc" stroke="#000" stroke-width="4.6"/>
<ellipse cx="1350.8" cy="926.6" rx="23" ry="10" fill="none" stroke="#000" stroke-width="1.8"/>
<ellipse cx="1351.7" cy="929.7" rx="19.4" ry="8.6" fill="#fcfcfc" stroke="#000" stroke-width="4"/>
<ellipse cx="1352.3" cy="932.9" rx="13.2" ry="3.8" fill="#fcfcfc" stroke="#000" stroke-width="3"/>
<path class="p" style="stroke-width:4;" d="M1322.0,924.7 C1322.5,927.2 1322.8,934.7 1324.9,939.7 C1327.0,944.7 1331.3,950.5 1334.8,954.6 C1338.3,958.8 1344.2,962.9 1346.1,964.6"/>
<path class="p" style="stroke-width:4;" d="M1355.0,940.9 L1355.0,955.9 L1372.3,952.1 L1372.3,935.9"/>
<path class="p" style="stroke-width:3;" d="M1372.3,942.2 L1394.7,934.7"/>
<path class="p" style="stroke-width:3;" d="M1374.8,924.7 L1379.7,919.7 L1384.7,925.9 L1379.7,929.7"/>
<path class="p" style="stroke-width:4;" d="M1318.6,942.2 C1317.8,944.3 1314.0,949.4 1313.6,954.6 C1313.2,959.8 1313.8,967.9 1316.1,973.3 C1318.4,978.7 1323.0,984.0 1327.4,987.1 C1331.8,990.2 1334.8,992.4 1342.3,992.0 C1349.8,991.6 1367.2,986.9 1372.3,984.6 C1377.4,982.3 1372.8,979.3 1372.9,978.3"/>
<ellipse class="k" cx="1329.9" cy="963.4" rx="12" ry="21" transform="rotate(-12 1329.9 963.4)"/>
<ellipse cx="1324.9" cy="964.0" rx="7" ry="19" transform="rotate(-12 1324.9 964.0)" fill="#fcfcfc" stroke="#000" stroke-width="2.4"/>
<path class="p" style="stroke:#fcfcfc;stroke-width:1;" d="M1329.9,945.9 C1330.7,948.0 1334.0,954.0 1334.8,958.4 C1335.6,962.8 1334.8,969.8 1334.8,972.1"/>
<path class="p" style="stroke-width:4;" d="M1334.8,944.7 C1336.0,946.8 1340.4,953.8 1342.3,957.1 C1344.2,960.4 1345.5,963.4 1346.1,964.6"/>
<path class="k" style="stroke-width:0;" d="M1347.3,961.5 L1439.6,935.9 L1444.6,942.2 L1438.4,954.0 L1364.8,972.7 L1359.8,976.5 L1346.1,967.7 Z"/>
<path class="p" style="stroke-width:3;" d="M1364.8,974.6 L1434.6,955.9"/>
<path class="p" style="stroke-width:3;" d="M1372.3,979.6 L1434.6,962.7"/>
<path class="p" style="stroke-width:3;" d="M1332.3,982.1 L1347.3,987.1 L1372.3,979.6"/>
<path class="p" style="stroke-width:3;" d="M1342.3,972.1 L1346.1,968.3"/>
<path class="k" style="stroke-width:0;" d="M1379.7,887.3 L1384.7,921.0 L1391.0,923.4 L1396.0,892.3 L1391.0,884.8 Z"/>
<path class="p" style="stroke:#fcfcfc;stroke-width:1.4;" d="M1382.9,896.0 L1384.7,917.2"/>
<path class="w" style="stroke-width:0;" d="M1389.7,904.7 L1394.7,906.0 L1394.7,913.5 L1391.0,911.0 Z"/>
<path class="k" style="stroke-width:0;" d="M1377.9,884.4 L1407.3,867.8 L1408.1,859.0 L1412.9,852.7 L1420.8,851.1 L1437.5,853.1 L1470.8,881.3 L1475.6,889.2 L1476.7,897.1 L1477.9,916.2 L1480.7,929.7 L1480.7,938.4 L1475.6,951.1 L1474.0,961.4 L1452.5,967.8 L1445.4,967.8 L1436.7,963.8 L1396.2,974.9 L1396.2,919.4 L1377.9,919.4 Z"/>
<path class="w" style="stroke-width:0;" d="M1411.3,865.4 L1417.6,867.0 L1425.6,867.0 L1431.1,865.4 L1431.1,873.7 L1424.8,874.9 L1416.8,874.3 L1411.3,872.9 Z"/>
<path class="w" style="stroke-width:0;" d="M1439.0,871.0 L1452.9,883.3 L1439.0,887.6 Z"/>
<path class="w" style="stroke-width:0;" d="M1435.1,858.3 L1437.9,857.9 L1465.2,881.3 L1459.7,883.7 L1435.1,863.0 Z"/>
<path class="w" style="stroke-width:0;" d="M1420.8,899.1 L1468.8,885.1 L1469.2,886.4 L1433.5,897.3 L1422.4,901.0 Z"/>
<path class="w" style="stroke-width:0;" d="M1397.8,894.8 L1404.9,892.4 L1401.0,897.1 Z"/>
<path class="w" style="stroke-width:0;" d="M1406.5,897.9 L1409.7,894.0 L1408.9,899.5 Z"/>
<path class="w" style="stroke-width:0;" d="M1396.6,899.1 L1404.9,905.9 L1411.7,904.7 L1414.0,894.8 L1418.0,903.5 L1399.8,910.2 Z"/>
<path class="w" style="stroke-width:0;" d="M1412.9,911.0 L1426.7,906.7 L1426.7,914.6 L1420.8,915.0 Z"/>
<path class="w" style="stroke-width:0;" d="M1431.9,905.9 L1433.1,905.9 L1433.1,913.0 L1431.9,913.0 Z"/>
<path class="w" style="stroke-width:0;" d="M1401.0,915.4 L1407.3,913.8 L1414.4,917.4 L1425.6,918.6 L1443.8,914.2 L1447.8,925.3 L1438.3,928.9 L1437.9,938.8 L1397.8,950.3 L1397.4,945.6 L1399.8,940.8 L1399.8,919.4 Z"/>
<path class="w" style="stroke-width:0;" d="M1451.0,912.6 L1466.4,907.9 L1469.2,913.8 L1475.6,916.6 L1477.5,929.7 L1445.0,938.4 L1444.6,934.4 L1455.7,931.3 L1455.3,925.3 Z"/>
<path class="w" style="stroke-width:0;" d="M1468.4,942.4 L1477.1,939.2 L1475.6,947.9 L1464.0,951.9 Z"/>
<path class="w" style="stroke-width:0;" d="M1445.0,947.9 L1464.0,943.2 L1461.3,949.5 L1455.7,952.7 L1455.3,950.3 L1445.0,949.9 Z"/>
<path class="w" style="stroke-width:0;" d="M1460.1,957.1 L1466.8,954.7 L1466.4,957.5 L1460.1,959.8 Z"/>
<path class="w" style="stroke-width:0;" d="M1439.8,962.2 L1455.7,956.7 L1457.3,958.3 L1452.5,963.8 L1444.6,964.6 Z"/>
<path class="w" style="stroke-width:0;" d="M1381.9,895.6 L1385.1,895.6 L1385.9,916.2 L1382.7,913.0 Z"/>
<path class="w" style="stroke-width:0;" d="M1393.0,881.3 L1408.1,875.7 L1408.1,877.3 L1393.8,882.9 Z"/>
<path class="w" style="stroke-width:0;" d="M1397.8,884.4 L1405.7,881.3 L1405.7,883.3 L1398.6,886.0 Z"/>
<path class="w" style="stroke-width:0;" d="M1402.5,886.8 L1408.9,884.4 L1408.9,886.4 L1404.1,888.4 Z"/>
<path class="w" style="stroke-width:0;" d="M1413.3,856.3 L1414.8,856.3 L1414.8,861.0 L1413.3,861.0 Z"/>
<path class="w" style="stroke-width:0;" d="M1428.3,856.3 L1429.9,856.3 L1429.9,860.6 L1428.3,860.6 Z"/>
<ellipse class="w" cx="1420.4" cy="882.9" rx="8.4" ry="4"/>
<path class="p" style="stroke:#fcfcfc;stroke-width:0.8;" d="M1422.4,903.5 L1469.2,890.0" stroke-dasharray="2 2"/>
</g>
<g id="small">
<path class="k" style="stroke-width:0;" d="M1127.3,961.9 C1127.6,958.9 1127.6,958.4 1129.1,957.4 C1130.6,956.4 1134.3,955.9 1136.4,956.0 C1138.5,956.1 1129.4,960.1 1141.8,958.3 C1154.2,956.5 1198.7,947.3 1211.0,945.1 C1223.3,942.9 1213.9,944.1 1215.6,945.1 C1217.3,946.1 1219.9,948.5 1221.1,951.0 C1222.3,953.5 1223.1,957.4 1222.9,960.1 C1222.7,962.8 1222.4,965.7 1220.1,967.4 C1217.8,969.1 1220.9,967.7 1209.2,970.1 C1197.5,972.5 1160.6,978.9 1150.0,981.9 C1139.4,984.9 1147.3,986.8 1145.5,988.3 C1143.7,989.8 1141.2,991.3 1139.1,991.0 C1137.0,990.7 1134.7,989.1 1132.7,986.5 C1130.7,983.9 1128.2,979.7 1127.3,975.6 C1126.4,971.5 1127.0,964.9 1127.3,961.9 Z"/>
<path class="w" style="stroke-width:0;" d="M1148.2,965.5 L1160.1,961.2 L1213.8,949.6 L1216.0,954.6 L1215.6,959.2 L1151.0,978.8 Z"/>
<ellipse class="k" cx="1161.9" cy="973.7" rx="4.6" ry="4.4"/>
<ellipse class="k" cx="1171.9" cy="971.5" rx="4.6" ry="4.4"/>
<ellipse class="k" cx="1181.9" cy="969.2" rx="4.6" ry="4.4"/>
<ellipse class="k" cx="1191.9" cy="966.5" rx="4.6" ry="4.4"/>
<ellipse class="k" cx="1201.9" cy="963.7" rx="4.6" ry="4.4"/>
<ellipse class="k" cx="1212.0" cy="961.0" rx="4.6" ry="4.4"/>
<ellipse class="k" cx="1164.6" cy="959.2" rx="4" ry="3.4"/>
<ellipse class="k" cx="1178.3" cy="956.0" rx="4" ry="3.4"/>
<ellipse class="k" cx="1191.0" cy="953.3" rx="4" ry="3.4"/>
<ellipse class="k" cx="1201.9" cy="951.9" rx="4" ry="3.4"/>
<ellipse class="k" cx="1209.7" cy="949.9" rx="4" ry="3.4"/>
<ellipse class="w" cx="1132.7" cy="962.8" rx="2" ry="1.2" transform="rotate(-20 1132.7 962.8)"/>
<ellipse class="w" cx="1134.7" cy="970.1" rx="2" ry="1.2" transform="rotate(-20 1134.7 970.1)"/>
<ellipse class="w" cx="1135.7" cy="975.6" rx="2" ry="1.2" transform="rotate(-20 1135.7 975.6)"/>
<ellipse class="w" cx="1136.9" cy="979.7" rx="2" ry="1.2" transform="rotate(-20 1136.9 979.7)"/>
<ellipse class="w" cx="1138.7" cy="985.1" rx="2" ry="1.2" transform="rotate(-20 1138.7 985.1)"/>
<ellipse cx="1248.4" cy="941.4" rx="6.35" ry="14.25" transform="rotate(-15 1248.4 941.4)" fill="#fcfcfc" stroke="#000" stroke-width="6.9"/>
<ellipse cx="1248.4" cy="941.4" rx="5.8" ry="13.7" transform="rotate(-15 1248.4 941.4)" fill="none" stroke="#fcfcfc" stroke-width="0.9"/>
<ellipse cx="1283.0" cy="971.9" rx="6.35" ry="14.25" transform="rotate(-15 1283.0 971.9)" fill="#fcfcfc" stroke="#000" stroke-width="6.9"/>
<ellipse cx="1283.0" cy="971.9" rx="5.8" ry="13.7" transform="rotate(-15 1283.0 971.9)" fill="none" stroke="#fcfcfc" stroke-width="0.9"/>
<path class="pw" style="stroke-width:3;" d="M1498.9,904.7 L1524.9,895.0 L1528.9,906.5 L1501.1,911.5 Z"/>
<ellipse class="k" cx="1500.1" cy="907.9" rx="2.6" ry="4" transform="rotate(-15 1500.1 907.9)"/>
<ellipse class="k" cx="1535.8" cy="898.4" rx="16" ry="25" transform="rotate(-10 1535.8 898.4)"/>
<ellipse class="w" cx="1532.2" cy="897.5" rx="10.4" ry="18.6" transform="rotate(-10 1532.2 897.5)"/>
<ellipse cx="1531.9" cy="898.1" rx="7.6" ry="14" transform="rotate(-10 1531.9 898.1)" fill="none" stroke="#000" stroke-width="2.6"/>
<ellipse class="k" cx="1527.9" cy="900.2" rx="4.6" ry="9" transform="rotate(-10 1527.9 900.2)"/>
<path class="k" style="stroke-width:0;" d="M1521.9,897.2 L1528.9,895.0 L1530.1,905.4 L1523.4,907.6 Z"/>
<path class="w" style="stroke-width:0;" d="M1501.1,906.2 L1523.4,898.0 L1525.7,904.7 L1502.6,910.6 Z"/>
<ellipse class="w" cx="1542.3" cy="883.9" rx="1.6" ry="2.2"/>
<ellipse class="w" cx="1545.3" cy="891.6" rx="1.6" ry="2.2"/>
<ellipse class="w" cx="1547.0" cy="900.2" rx="1.6" ry="2.2"/>
<ellipse class="w" cx="1546.4" cy="908.8" rx="1.6" ry="2.2"/>
<ellipse class="w" cx="1544.7" cy="915.8" rx="1.6" ry="2.2"/>
<path class="k" style="stroke-width:0;" d="M1588.0,877.9 C1589.8,873.5 1596.9,864.5 1599.9,860.8 C1602.9,857.0 1603.4,856.1 1605.9,855.4 C1608.4,854.7 1613.3,855.6 1614.8,856.4 C1616.3,857.2 1616.1,859.6 1615.1,860.4 C1614.1,861.2 1609.0,860.0 1608.8,861.3 C1608.5,862.6 1612.1,865.5 1613.6,868.3 C1615.1,871.1 1616.9,874.6 1618.0,878.2 C1619.1,881.8 1620.3,886.8 1620.1,889.8 C1619.9,892.8 1618.5,895.0 1616.6,896.1 C1614.7,897.2 1612.1,897.1 1608.8,896.1 C1605.5,895.1 1600.3,891.6 1597.0,890.1 C1593.7,888.6 1590.7,889.1 1589.2,887.1 C1587.7,885.1 1586.2,882.3 1588.0,877.9 Z"/>
<path class="p" style="stroke:#fcfcfc;stroke-width:1.5;" d="M1605.9,869.0 C1606.8,870.7 1610.4,875.9 1611.5,879.4 C1612.6,882.9 1612.5,888.1 1612.7,889.8"/>
<path class="k" style="stroke-width:0;" d="M1643.0,855.7 C1643.8,852.0 1645.3,846.4 1647.5,843.8 C1649.7,841.2 1653.4,840.6 1656.4,840.1 C1659.4,839.6 1663.3,841.3 1665.3,840.8 C1667.3,840.3 1664.3,838.6 1668.3,837.1 C1672.2,835.6 1685.0,833.5 1689.0,831.9 C1693.0,830.3 1689.3,828.8 1692.0,827.4 C1694.7,826.0 1701.7,823.0 1705.4,823.3 C1709.1,823.5 1711.6,825.7 1714.3,828.9 C1717.0,832.1 1720.1,838.1 1721.7,842.3 C1723.3,846.5 1723.5,849.8 1724.0,854.2 C1724.5,858.7 1725.6,865.3 1724.7,869.0 C1723.8,872.7 1721.5,875.0 1718.8,876.4 C1716.1,877.8 1711.9,877.9 1708.4,877.2 C1704.9,876.5 1703.7,871.6 1698.0,872.0 C1692.3,872.4 1679.4,877.2 1674.2,879.4 C1669.0,881.6 1669.8,884.4 1666.8,885.4 C1663.8,886.4 1659.6,886.6 1656.4,885.4 C1653.2,884.1 1649.7,881.1 1647.5,877.9 C1645.3,874.7 1643.8,869.7 1643.0,866.0 C1642.2,862.3 1642.2,859.4 1643.0,855.7 Z"/>
<path class="w" style="stroke-width:0;" d="M1648.2,854.2 L1652.7,852.7 L1657.1,863.1 L1650.4,867.5 Z"/>
<path class="w" style="stroke-width:0;" d="M1651.2,870.5 L1657.9,866.0 L1658.6,875.0 L1654.9,877.2 Z"/>
<path class="w" style="stroke-width:0;" d="M1675.7,840.8 L1686.1,839.3 L1687.6,845.3 L1677.2,847.5 Z"/>
<path class="w" style="stroke-width:0;" d="M1702.4,828.9 L1708.4,827.4 L1715.8,837.8 L1717.3,846.7 L1712.8,845.3 Z"/>
<path class="w" style="stroke-width:0;" d="M1672.7,854.2 L1681.6,849.7 L1689.0,851.9 L1675.7,861.6 Z"/>
<path class="w" style="stroke-width:0;" d="M1674.2,866.0 L1696.5,860.1 L1697.2,863.1 L1675.7,869.0 Z"/>
<path class="w" style="stroke-width:0;" d="M1675.7,874.2 L1698.0,868.3 L1698.0,870.5 L1675.7,876.4 Z"/>
<path class="w" style="stroke-width:0;" d="M1692.0,839.3 L1696.5,838.6 L1696.5,842.3 L1692.0,842.3 Z"/>
<path class="w" style="stroke-width:0;" d="M1695.0,848.2 L1699.4,846.7 L1702.4,854.2 L1698.0,855.7 Z"/>
<path class="w" style="stroke-width:0;" d="M1706.9,862.3 L1712.8,860.8 L1712.8,866.0 L1706.9,866.8 Z"/>
<path class="w" style="stroke-width:0;" d="M1706.9,872.0 L1711.3,871.2 L1711.3,873.5 L1706.9,874.2 Z"/>
<path class="w" style="stroke-width:0;" d="M1714.3,851.9 L1718.8,851.2 L1718.8,853.4 L1714.3,854.2 Z"/>
<ellipse cx="1738.8" cy="849.7" rx="8.2" ry="14.8" transform="rotate(-10 1738.8 849.7)" fill="#fcfcfc" stroke="#000" stroke-width="4.5"/>
<path class="pw" style="stroke-width:3.4;" d="M1753.7,839.0 L1781.1,831.6 L1783.4,840.8 L1755.9,848.2 Z"/>
<ellipse class="k" cx="1754.4" cy="843.5" rx="3" ry="5.2" transform="rotate(-15 1754.4 843.5)"/>
<ellipse class="k" cx="1787.5" cy="834.1" rx="6.8" ry="10.4" transform="rotate(-10 1787.5 834.1)"/>
<path class="p" style="stroke:#fcfcfc;stroke-width:1.2;" d="M1790.1,828.9 L1791.5,837.8"/>
<g transform="translate(2143.8,643.6) rotate(-14.8)"><path class="k" d="M0,-5 Q-3.5,0 0,5.6 L2,6.4 H40 V-6.4 H2 Z"/><rect class="w" x="7" y="-2.7" width="32" height="5.4"/><ellipse class="k" cx="42.4" cy="0" rx="8" ry="12.2" transform="rotate(8 42.4 0)"/></g>
<g transform="translate(2189.6,684) rotate(-14.8)"><path class="k" d="M0,-5 Q-3.5,0 0,5.6 L2,6.4 H40 V-6.4 H2 Z"/><rect class="w" x="7" y="-2.7" width="32" height="5.4"/><ellipse class="k" cx="42.4" cy="0" rx="8" ry="12.2" transform="rotate(8 42.4 0)"/></g>
<g transform="translate(2147.6,747) rotate(-14.8)"><path class="k" d="M0,-5 Q-3.5,0 0,5.6 L2,6.4 H40 V-6.4 H2 Z"/><rect class="w" x="7" y="-2.7" width="32" height="5.4"/><ellipse class="k" cx="42.4" cy="0" rx="8" ry="12.2" transform="rotate(8 42.4 0)"/></g>
<g transform="translate(2186.4,779.8) rotate(-14.8)"><path class="k" d="M0,-5 Q-3.5,0 0,5.6 L2,6.4 H40 V-6.4 H2 Z"/><rect class="w" x="7" y="-2.7" width="32" height="5.4"/><ellipse class="k" cx="42.4" cy="0" rx="8" ry="12.2" transform="rotate(8 42.4 0)"/></g>
<ellipse class="k" cx="2118.2" cy="726.3" rx="9" ry="14.6" transform="rotate(-15 2118.2 726.3)"/>
<ellipse class="w" cx="2118.4" cy="726.3" rx="1.9" ry="7.4" transform="rotate(-15 2118.4 726.3)"/>
<ellipse class="k" cx="2135.2" cy="721.4" rx="9" ry="14.6" transform="rotate(-15 2135.2 721.4)"/>
<ellipse class="w" cx="2135.4" cy="721.4" rx="1.9" ry="7.4" transform="rotate(-15 2135.4 721.4)"/>
</g>
<g id="labels">
<text class="n" text-anchor="end" transform="translate(1036.5 31.2) scale(0.94 1)">6</text>
<text class="n" text-anchor="end" transform="translate(1036.5 70.2) scale(0.94 1)">7</text>
<text class="n" text-anchor="end" transform="translate(1036.5 127.7) scale(0.94 1)">8</text>
<text class="n" text-anchor="middle" transform="translate(1125.5 127.7) scale(0.94 1)">9</text>
<text class="n" text-anchor="middle" transform="translate(1125 387.9) scale(0.94 1)">10</text>
<text class="n" text-anchor="middle" transform="translate(1252.5 442.2) scale(0.94 1)">20</text>
<text class="n" text-anchor="end" transform="translate(1036.5 492.9) scale(0.94 1)">12</text>
<text class="n" text-anchor="end" transform="translate(1036.5 624.2) scale(0.94 1)">13</text>
<text class="n" text-anchor="middle" transform="translate(1125 624.2) scale(0.94 1)">14</text>
<text class="n" text-anchor="end" transform="translate(1036.5 728.5) scale(0.94 1)">15</text>
<text class="n" text-anchor="middle" transform="translate(1125 860.8000000000001) scale(0.94 1)">19</text>
<text class="n" text-anchor="end" transform="translate(1036.5 897.2) scale(0.94 1)">16</text>
<text class="n" text-anchor="end" transform="translate(1036.5 952.7) scale(0.94 1)">17</text>
<text class="n" text-anchor="end" transform="translate(1036.5 1003.6) scale(0.94 1)">18</text>
<text class="n" text-anchor="end" transform="translate(1036 1072.0) scale(0.94 1)">21</text>
<text class="n" text-anchor="middle" transform="translate(1125 1122.7) scale(0.94 1)">22</text>
<text class="n" text-anchor="end" transform="translate(1036.5 1408.2) scale(0.94 1)">23</text>
<text class="n" text-anchor="end" transform="translate(1036.5 1492.0) scale(0.94 1)">24</text>
<text class="n" text-anchor="end" transform="translate(1036.5 1568.7) scale(0.94 1)">25</text>
<text class="n" text-anchor="end" transform="translate(1036.5 1632.8) scale(0.94 1)">26</text>
<text class="n" text-anchor="end" transform="translate(1036.5 1701.8) scale(0.94 1)">27</text>
<text class="n" text-anchor="middle" transform="translate(1125 1633.7) scale(0.94 1)">28</text>
<text class="n" text-anchor="middle" transform="translate(1253.5 1499.9) scale(0.94 1)">29</text>
<text class="n" text-anchor="middle" transform="translate(56 696.2) scale(0.94 1)">1</text>
<text class="n" text-anchor="middle" transform="translate(56 853.2) scale(0.94 1)">2</text>
<text class="n" text-anchor="middle" transform="translate(44.2 1263.2) scale(0.94 1)">3</text>
<text class="n" text-anchor="middle" transform="translate(54.3 1423.7) scale(0.94 1)">4</text>
<text class="n" text-anchor="middle" transform="translate(53.8 1852.2) scale(0.94 1)">5</text>
<text class="n" text-anchor="middle" transform="translate(1444.6 239.79999999999998) scale(0.94 1)">30</text>
<text class="n" text-anchor="middle" transform="translate(1447 294.9) scale(0.94 1)">31</text>
<text class="n" text-anchor="middle" transform="translate(1549 268.59999999999997) scale(0.94 1)">32</text>
<text class="n" text-anchor="middle" transform="translate(1447 344.5) scale(0.94 1)">33</text>
<text class="n" text-anchor="middle" transform="translate(1447 477.0) scale(0.94 1)">34</text>
<text class="n" text-anchor="middle" transform="translate(1447 521.2) scale(0.94 1)">35</text>
<text class="n" text-anchor="middle" transform="translate(1660 392.0) scale(0.94 1)">36</text>
<text class="n" text-anchor="middle" transform="translate(2003.4 530.7) scale(0.94 1)">38</text>
<text class="n" text-anchor="middle" transform="translate(2004.2 607.7) scale(0.94 1)">39</text>
<text class="n" text-anchor="middle" transform="translate(1566.5 815.0) scale(0.94 1)">37</text>
<text class="n" text-anchor="middle" transform="translate(1193.6 1225.7) scale(0.94 1)">40</text>
<text class="n" text-anchor="middle" transform="translate(1274 1212.7) scale(0.94 1)">41</text>
<text class="n" text-anchor="middle" transform="translate(1386 1174.4) scale(0.94 1)">42</text>
<text class="n" text-anchor="middle" transform="translate(1541.6 1127.8) scale(0.94 1)">43</text>
<text class="n" text-anchor="middle" transform="translate(1597.7 1104.2) scale(0.94 1)">45</text>
<text class="n" text-anchor="middle" transform="translate(1658.7 1086.2) scale(0.94 1)">46</text>
<text class="n" text-anchor="middle" transform="translate(1709 1071.7) scale(0.94 1)">49</text>
<text class="n" text-anchor="middle" transform="translate(1761 1058.8) scale(0.94 1)">47</text>
<text class="n" text-anchor="middle" transform="translate(1810 1044.2) scale(0.94 1)">48</text>
<text class="n" text-anchor="middle" transform="translate(1946 1179.5) scale(0.94 1)">50</text>
<text class="n" text-anchor="middle" transform="translate(2112 949.2) scale(0.94 1)">51</text>
<text class="n" text-anchor="middle" transform="translate(2182.3 931.2) scale(0.94 1)">38</text>
<text class="s" text-anchor="middle" transform="translate(2123 889.5) scale(0.94 1)">2x</text>
<text class="s" text-anchor="middle" transform="translate(2191.6 865.6) scale(0.94 1)">4x</text>
<text class="s" text-anchor="middle" transform="translate(1806.5 976.5) scale(0.94 1)">2x</text>
<text class="c" text-anchor="start" x="9.5" y="1624">Festool-Katalog</text>
<text class="c" text-anchor="start" x="9.5" y="1640.5">Festool-catalogue</text>
<text class="c2" text-anchor="start" x="9.5" y="1663.2">www.festool.com</text>
</g>
</svg>
</body></html>
